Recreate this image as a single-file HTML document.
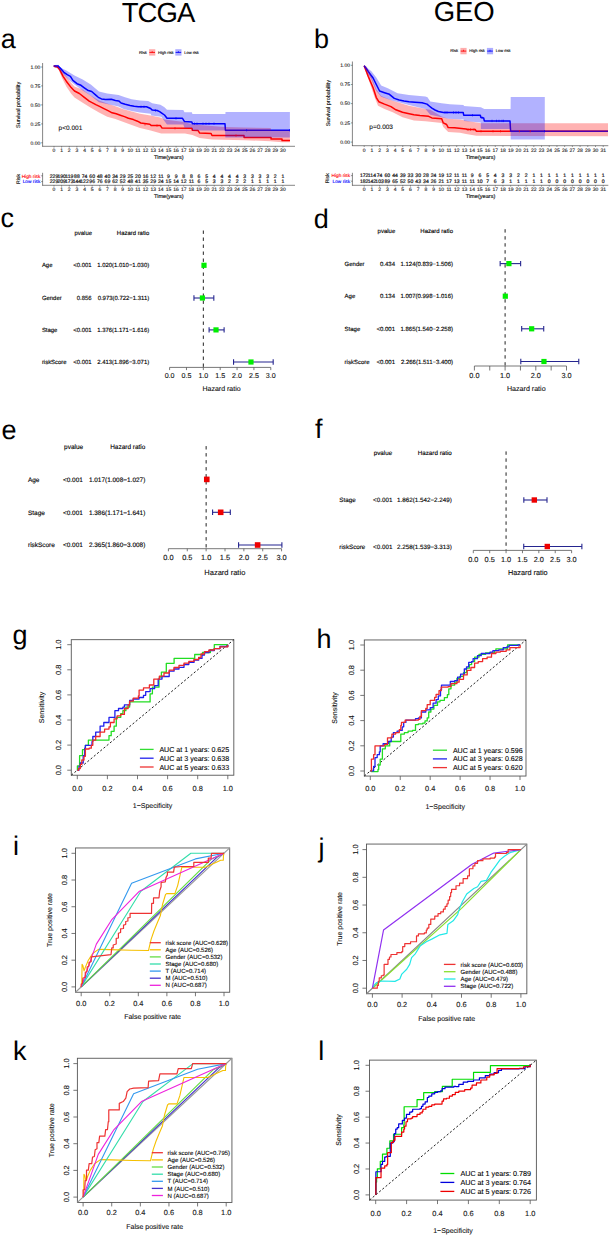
<!DOCTYPE html>
<html><head><meta charset="utf-8"><title>Figure</title>
<style>
html,body{margin:0;padding:0;background:#fff;}
body{width:612px;height:1240px;overflow:hidden;}
svg{display:block;font-family:"Liberation Sans",sans-serif;text-rendering:geometricPrecision;}
</style></head>
<body>
<svg width="612" height="1240" viewBox="0 0 612 1240">
<rect x="0" y="0" width="612" height="1240" fill="#fff"/>
<text x="158" y="21.8" font-size="27.5" text-anchor="middle" fill="#000" letter-spacing="-0.95">TCGA</text>
<text x="464.2" y="20.6" font-size="27.5" text-anchor="middle" fill="#000" >GEO</text>
<text x="0.8" y="47.5" font-size="27" text-anchor="start" fill="#000" >a</text>
<text x="314" y="47.5" font-size="27" text-anchor="start" fill="#000" >b</text>
<text x="0.5" y="226.5" font-size="27" text-anchor="start" fill="#000" >c</text>
<text x="313.7" y="227.6" font-size="27" text-anchor="start" fill="#000" >d</text>
<text x="1.6" y="438.7" font-size="27" text-anchor="start" fill="#000" >e</text>
<text x="315" y="438.3" font-size="27" text-anchor="start" fill="#000" >f</text>
<text x="12.4" y="643.6" font-size="27" text-anchor="start" fill="#000" >g</text>
<text x="316.4" y="647.8" font-size="27" text-anchor="start" fill="#000" >h</text>
<text x="12.9" y="854.5" font-size="27" text-anchor="start" fill="#000" >i</text>
<text x="318.5" y="856.8" font-size="27" text-anchor="start" fill="#000" >j</text>
<text x="12.9" y="1060.4" font-size="27" text-anchor="start" fill="#000" >k</text>
<text x="318.3" y="1060.4" font-size="27" text-anchor="start" fill="#000" >l</text>
<text transform="translate(138.9,53.5) scale(0.5)" font-size="8.2" text-anchor="start" fill="#000"  stroke="#000" stroke-width="0.2">Risk</text>
<rect x="149.1" y="49.2" width="6.2" height="6.4" fill="rgba(255,0,0,0.32)" stroke="none" stroke-width="1" />
<line x1="149.4" y1="52.4" x2="155" y2="52.4" stroke="#ff0000" stroke-width="0.9" />
<line x1="152.2" y1="51.1" x2="152.2" y2="52.6" stroke="#ff0000" stroke-width="0.7" />
<text transform="translate(158,53.5) scale(0.5)" font-size="8" text-anchor="start" fill="#000"  stroke="#000" stroke-width="0.2">High risk</text>
<rect x="175.3" y="49.2" width="6.2" height="6.4" fill="rgba(0,0,255,0.32)" stroke="none" stroke-width="1" />
<line x1="175.6" y1="52.4" x2="181.2" y2="52.4" stroke="#0000ff" stroke-width="0.9" />
<line x1="178.4" y1="51.1" x2="178.4" y2="52.6" stroke="#0000ff" stroke-width="0.7" />
<text transform="translate(184.2,53.5) scale(0.5)" font-size="8" text-anchor="start" fill="#000"  stroke="#000" stroke-width="0.2">Low risk</text>
<polyline points="53.7,66.1 57.4,66.9 59.8,69.8 63.1,76.3 66.3,81.2 71.2,87.6 74.5,91 79.4,93.5 84.3,97.3 89.2,101.2 95.8,104.6 100,106.6 103.9,108.6 108,110.6 112.1,112.8 116.2,113.8 120.3,115.2 124.5,116.6 128.4,118.3 133.4,119.6 137.5,121.2 140.8,123 149.8,124.2 151.4,125.6 160.4,125.6 162.1,128.1 191.9,128.2 192.4,130.2 198.1,130.6 199.7,133.1 211.1,133.5 212,135.5 244,135.5 244.1,137.4 271,137.4 271.1,139.1 282,139.1 282.1,140.6 290,140.6" fill="none" stroke="#ff0000" stroke-width="1.5" stroke-linejoin="round" />
<polyline points="53.7,66.1 58.2,66.1 60.6,68.6 63.9,72.3 67.2,74.7 70.4,76.3 72.9,80.4 77,83.7 81,85.3 84.3,87.8 87.6,90.2 91.7,91.5 95.8,95.1 98.3,97.3 101.5,98.9 105.6,99.5 111.3,99.3 115.4,100.5 118.7,100.9 121.1,103 125.2,104.2 130.1,105.4 134.2,106.2 138.3,106.7 146.5,106.8 150.6,108.5 152.3,110.1 157.2,110.5 159.6,111.7 162.1,113.4 164.5,115 167,118.3 182.5,118.3 184.5,121.6 191.9,122.1 192.4,123.7 225,123.7 225.4,130.2 290,130.2" fill="none" stroke="#0000ff" stroke-width="1.5" stroke-linejoin="round" />
<polygon points="53.7,65.5 58,66.2 62.3,71.5 66.3,76.3 71.2,83 74.5,86.5 82.7,89.8 90.8,95.5 99,100.5 107.2,103.6 115.4,106.2 123.5,109.2 131.7,111.6 140,113.8 150.6,115.5 160.4,117.4 164.5,119.5 184.5,122 192.4,124.5 225.4,127 244,127.6 270.7,128.1 271,130.5 289.9,130.5 289.9,142.2 282,142.2 270.2,141.2 244.7,140.2 212,139.6 199.7,138 192.4,135.1 185,133.5 161.2,133.4 150.6,130.5 140,128 131.7,125 123.5,122 115.4,119 107.2,116.8 99,112.6 90.8,107.8 82.7,102.8 74.5,97.6 71.2,93.8 66.3,86.5 62,78 58,68 53.7,66.5" fill="rgba(255,0,0,0.3)" stroke="none" />
<polygon points="53.7,65.3 58,65.6 62.3,68.5 66.3,70.6 70.4,73 74.5,75.5 82.7,79.6 90.8,84.5 99,91.5 107.2,93.4 118.6,95.1 125,97.2 131.7,99.2 140,100.5 148.2,100.9 152.3,103.2 160.4,104.8 164.5,107.3 167,109.7 183.3,110.1 184.5,112.2 191.9,112.3 192.4,113.9 225.4,113.9 225.5,111.9 289.9,111.9 289.9,137.6 225.4,137.6 225,130.6 192.4,130.6 191.9,127.8 184.5,127.7 183.3,124.4 167,124.4 161.2,116.7 151.4,115.4 150.6,113.8 140,112.4 131.7,111 123.6,109 118.6,106.5 107.2,104 99,102.2 90.8,95.8 82.7,90.5 74.5,84.5 70.4,81.3 66.3,77.2 62,73 58,67.8 53.7,67" fill="rgba(0,0,255,0.3)" stroke="none" />
<line x1="55" y1="65.3" x2="55" y2="67.7" stroke="#ff0000" stroke-width="0.6" />
<line x1="57.5" y1="65.7" x2="57.5" y2="68.1" stroke="#ff0000" stroke-width="0.6" />
<line x1="145" y1="123.2" x2="145" y2="125.6" stroke="#ff0000" stroke-width="0.6" />
<line x1="157" y1="124.4" x2="157" y2="126.8" stroke="#ff0000" stroke-width="0.6" />
<line x1="175" y1="127" x2="175" y2="129.4" stroke="#ff0000" stroke-width="0.6" />
<line x1="236" y1="134.3" x2="236" y2="136.7" stroke="#ff0000" stroke-width="0.6" />
<line x1="56" y1="64.9" x2="56" y2="67.3" stroke="#0000ff" stroke-width="0.6" />
<line x1="58" y1="64.9" x2="58" y2="67.3" stroke="#0000ff" stroke-width="0.6" />
<line x1="141" y1="105.6" x2="141" y2="108" stroke="#0000ff" stroke-width="0.6" />
<line x1="144" y1="105.6" x2="144" y2="108" stroke="#0000ff" stroke-width="0.6" />
<line x1="155.5" y1="109.3" x2="155.5" y2="111.7" stroke="#0000ff" stroke-width="0.6" />
<line x1="176" y1="117.1" x2="176" y2="119.5" stroke="#0000ff" stroke-width="0.6" />
<line x1="194.5" y1="122.5" x2="194.5" y2="124.9" stroke="#0000ff" stroke-width="0.6" />
<line x1="197" y1="122.5" x2="197" y2="124.9" stroke="#0000ff" stroke-width="0.6" />
<line x1="203" y1="122.5" x2="203" y2="124.9" stroke="#0000ff" stroke-width="0.6" />
<line x1="206" y1="122.5" x2="206" y2="124.9" stroke="#0000ff" stroke-width="0.6" />
<line x1="209" y1="122.5" x2="209" y2="124.9" stroke="#0000ff" stroke-width="0.6" />
<line x1="214" y1="122.5" x2="214" y2="124.9" stroke="#0000ff" stroke-width="0.6" />
<line x1="246.6" y1="129" x2="246.6" y2="131.4" stroke="#0000ff" stroke-width="0.6" />
<line x1="289.5" y1="129" x2="289.5" y2="131.4" stroke="#0000ff" stroke-width="0.6" />
<line x1="42.6" y1="63" x2="42.6" y2="146.6" stroke="#333" stroke-width="0.6" />
<line x1="42.3" y1="146.3" x2="295" y2="146.3" stroke="#333" stroke-width="0.6" />
<line x1="41.1" y1="67" x2="42.6" y2="67" stroke="#333" stroke-width="0.5" />
<text transform="translate(40.4,68.75) scale(0.5)" font-size="10.2" text-anchor="end" fill="#111"  stroke="#111" stroke-width="0.16">1.00</text>
<line x1="41.1" y1="85.9" x2="42.6" y2="85.9" stroke="#333" stroke-width="0.5" />
<text transform="translate(40.4,87.65) scale(0.5)" font-size="10.2" text-anchor="end" fill="#111"  stroke="#111" stroke-width="0.16">0.75</text>
<line x1="41.1" y1="104.9" x2="42.6" y2="104.9" stroke="#333" stroke-width="0.5" />
<text transform="translate(40.4,106.65) scale(0.5)" font-size="10.2" text-anchor="end" fill="#111"  stroke="#111" stroke-width="0.16">0.50</text>
<line x1="41.1" y1="123.9" x2="42.6" y2="123.9" stroke="#333" stroke-width="0.5" />
<text transform="translate(40.4,125.65) scale(0.5)" font-size="10.2" text-anchor="end" fill="#111"  stroke="#111" stroke-width="0.16">0.25</text>
<line x1="41.1" y1="142.8" x2="42.6" y2="142.8" stroke="#333" stroke-width="0.5" />
<text transform="translate(40.4,144.55) scale(0.5)" font-size="10.2" text-anchor="end" fill="#111"  stroke="#111" stroke-width="0.16">0.00</text>
<line x1="54" y1="146.3" x2="54" y2="147.6" stroke="#333" stroke-width="0.5" />
<text transform="translate(54,152.3) scale(0.5)" font-size="10" text-anchor="middle" fill="#111"  stroke="#111" stroke-width="0.2">0</text>
<line x1="61.63" y1="146.3" x2="61.63" y2="147.6" stroke="#333" stroke-width="0.5" />
<text transform="translate(61.63,152.3) scale(0.5)" font-size="10" text-anchor="middle" fill="#111"  stroke="#111" stroke-width="0.2">1</text>
<line x1="69.26" y1="146.3" x2="69.26" y2="147.6" stroke="#333" stroke-width="0.5" />
<text transform="translate(69.26,152.3) scale(0.5)" font-size="10" text-anchor="middle" fill="#111"  stroke="#111" stroke-width="0.2">2</text>
<line x1="76.89" y1="146.3" x2="76.89" y2="147.6" stroke="#333" stroke-width="0.5" />
<text transform="translate(76.89,152.3) scale(0.5)" font-size="10" text-anchor="middle" fill="#111"  stroke="#111" stroke-width="0.2">3</text>
<line x1="84.52" y1="146.3" x2="84.52" y2="147.6" stroke="#333" stroke-width="0.5" />
<text transform="translate(84.52,152.3) scale(0.5)" font-size="10" text-anchor="middle" fill="#111"  stroke="#111" stroke-width="0.2">4</text>
<line x1="92.15" y1="146.3" x2="92.15" y2="147.6" stroke="#333" stroke-width="0.5" />
<text transform="translate(92.15,152.3) scale(0.5)" font-size="10" text-anchor="middle" fill="#111"  stroke="#111" stroke-width="0.2">5</text>
<line x1="99.78" y1="146.3" x2="99.78" y2="147.6" stroke="#333" stroke-width="0.5" />
<text transform="translate(99.78,152.3) scale(0.5)" font-size="10" text-anchor="middle" fill="#111"  stroke="#111" stroke-width="0.2">6</text>
<line x1="107.41" y1="146.3" x2="107.41" y2="147.6" stroke="#333" stroke-width="0.5" />
<text transform="translate(107.41,152.3) scale(0.5)" font-size="10" text-anchor="middle" fill="#111"  stroke="#111" stroke-width="0.2">7</text>
<line x1="115.04" y1="146.3" x2="115.04" y2="147.6" stroke="#333" stroke-width="0.5" />
<text transform="translate(115.04,152.3) scale(0.5)" font-size="10" text-anchor="middle" fill="#111"  stroke="#111" stroke-width="0.2">8</text>
<line x1="122.67" y1="146.3" x2="122.67" y2="147.6" stroke="#333" stroke-width="0.5" />
<text transform="translate(122.67,152.3) scale(0.5)" font-size="10" text-anchor="middle" fill="#111"  stroke="#111" stroke-width="0.2">9</text>
<line x1="130.3" y1="146.3" x2="130.3" y2="147.6" stroke="#333" stroke-width="0.5" />
<text transform="translate(130.3,152.3) scale(0.5)" font-size="10" text-anchor="middle" fill="#111"  stroke="#111" stroke-width="0.2">10</text>
<line x1="137.93" y1="146.3" x2="137.93" y2="147.6" stroke="#333" stroke-width="0.5" />
<text transform="translate(137.93,152.3) scale(0.5)" font-size="10" text-anchor="middle" fill="#111"  stroke="#111" stroke-width="0.2">11</text>
<line x1="145.56" y1="146.3" x2="145.56" y2="147.6" stroke="#333" stroke-width="0.5" />
<text transform="translate(145.56,152.3) scale(0.5)" font-size="10" text-anchor="middle" fill="#111"  stroke="#111" stroke-width="0.2">12</text>
<line x1="153.19" y1="146.3" x2="153.19" y2="147.6" stroke="#333" stroke-width="0.5" />
<text transform="translate(153.19,152.3) scale(0.5)" font-size="10" text-anchor="middle" fill="#111"  stroke="#111" stroke-width="0.2">13</text>
<line x1="160.82" y1="146.3" x2="160.82" y2="147.6" stroke="#333" stroke-width="0.5" />
<text transform="translate(160.82,152.3) scale(0.5)" font-size="10" text-anchor="middle" fill="#111"  stroke="#111" stroke-width="0.2">14</text>
<line x1="168.45" y1="146.3" x2="168.45" y2="147.6" stroke="#333" stroke-width="0.5" />
<text transform="translate(168.45,152.3) scale(0.5)" font-size="10" text-anchor="middle" fill="#111"  stroke="#111" stroke-width="0.2">15</text>
<line x1="176.08" y1="146.3" x2="176.08" y2="147.6" stroke="#333" stroke-width="0.5" />
<text transform="translate(176.08,152.3) scale(0.5)" font-size="10" text-anchor="middle" fill="#111"  stroke="#111" stroke-width="0.2">16</text>
<line x1="183.71" y1="146.3" x2="183.71" y2="147.6" stroke="#333" stroke-width="0.5" />
<text transform="translate(183.71,152.3) scale(0.5)" font-size="10" text-anchor="middle" fill="#111"  stroke="#111" stroke-width="0.2">17</text>
<line x1="191.34" y1="146.3" x2="191.34" y2="147.6" stroke="#333" stroke-width="0.5" />
<text transform="translate(191.34,152.3) scale(0.5)" font-size="10" text-anchor="middle" fill="#111"  stroke="#111" stroke-width="0.2">18</text>
<line x1="198.97" y1="146.3" x2="198.97" y2="147.6" stroke="#333" stroke-width="0.5" />
<text transform="translate(198.97,152.3) scale(0.5)" font-size="10" text-anchor="middle" fill="#111"  stroke="#111" stroke-width="0.2">19</text>
<line x1="206.6" y1="146.3" x2="206.6" y2="147.6" stroke="#333" stroke-width="0.5" />
<text transform="translate(206.6,152.3) scale(0.5)" font-size="10" text-anchor="middle" fill="#111"  stroke="#111" stroke-width="0.2">20</text>
<line x1="214.23" y1="146.3" x2="214.23" y2="147.6" stroke="#333" stroke-width="0.5" />
<text transform="translate(214.23,152.3) scale(0.5)" font-size="10" text-anchor="middle" fill="#111"  stroke="#111" stroke-width="0.2">21</text>
<line x1="221.86" y1="146.3" x2="221.86" y2="147.6" stroke="#333" stroke-width="0.5" />
<text transform="translate(221.86,152.3) scale(0.5)" font-size="10" text-anchor="middle" fill="#111"  stroke="#111" stroke-width="0.2">22</text>
<line x1="229.49" y1="146.3" x2="229.49" y2="147.6" stroke="#333" stroke-width="0.5" />
<text transform="translate(229.49,152.3) scale(0.5)" font-size="10" text-anchor="middle" fill="#111"  stroke="#111" stroke-width="0.2">23</text>
<line x1="237.12" y1="146.3" x2="237.12" y2="147.6" stroke="#333" stroke-width="0.5" />
<text transform="translate(237.12,152.3) scale(0.5)" font-size="10" text-anchor="middle" fill="#111"  stroke="#111" stroke-width="0.2">24</text>
<line x1="244.75" y1="146.3" x2="244.75" y2="147.6" stroke="#333" stroke-width="0.5" />
<text transform="translate(244.75,152.3) scale(0.5)" font-size="10" text-anchor="middle" fill="#111"  stroke="#111" stroke-width="0.2">25</text>
<line x1="252.38" y1="146.3" x2="252.38" y2="147.6" stroke="#333" stroke-width="0.5" />
<text transform="translate(252.38,152.3) scale(0.5)" font-size="10" text-anchor="middle" fill="#111"  stroke="#111" stroke-width="0.2">26</text>
<line x1="260.01" y1="146.3" x2="260.01" y2="147.6" stroke="#333" stroke-width="0.5" />
<text transform="translate(260.01,152.3) scale(0.5)" font-size="10" text-anchor="middle" fill="#111"  stroke="#111" stroke-width="0.2">27</text>
<line x1="267.64" y1="146.3" x2="267.64" y2="147.6" stroke="#333" stroke-width="0.5" />
<text transform="translate(267.64,152.3) scale(0.5)" font-size="10" text-anchor="middle" fill="#111"  stroke="#111" stroke-width="0.2">28</text>
<line x1="275.27" y1="146.3" x2="275.27" y2="147.6" stroke="#333" stroke-width="0.5" />
<text transform="translate(275.27,152.3) scale(0.5)" font-size="10" text-anchor="middle" fill="#111"  stroke="#111" stroke-width="0.2">29</text>
<line x1="282.9" y1="146.3" x2="282.9" y2="147.6" stroke="#333" stroke-width="0.5" />
<text transform="translate(282.9,152.3) scale(0.5)" font-size="10" text-anchor="middle" fill="#111"  stroke="#111" stroke-width="0.2">30</text>
<text x="168.8" y="159.1" font-size="5.6" text-anchor="middle" fill="#111"  stroke="#111" stroke-width="0.15">Time(years)</text>
<text transform="translate(20.1,104.9) rotate(-90) scale(1)" font-size="5.5" text-anchor="middle" fill="#111" stroke="#111" stroke-width="0.1">Survival probability</text>
<text x="58.6" y="129.8" font-size="6.5" text-anchor="start" fill="#111"  stroke="#111" stroke-width="0.1">p&lt;0.001</text>
<text transform="translate(20,179) rotate(-90) scale(1)" font-size="5.2" text-anchor="middle" fill="#111" stroke="#111" stroke-width="0.12">Risk</text>
<text transform="translate(40.3,177.5) scale(0.5)" font-size="9.6" text-anchor="end" fill="#ff0000"  stroke="#ff0000" stroke-width="0.24">High risk</text>
<text transform="translate(40.3,183.3) scale(0.5)" font-size="9.6" text-anchor="end" fill="#0000ff"  stroke="#0000ff" stroke-width="0.24">Low risk</text>
<line x1="42.6" y1="172.8" x2="42.6" y2="185.6" stroke="#333" stroke-width="0.6" />
<line x1="41.1" y1="175.8" x2="42.6" y2="175.8" stroke="#333" stroke-width="0.5" />
<line x1="41.1" y1="181.6" x2="42.6" y2="181.6" stroke="#333" stroke-width="0.5" />
<line x1="42.3" y1="185.3" x2="295" y2="185.3" stroke="#333" stroke-width="0.6" />
<text transform="translate(54,177.6) scale(0.5)" font-size="10.2" text-anchor="middle" fill="#111"  stroke="#111" stroke-width="0.36">229</text>
<text transform="translate(54,183.4) scale(0.5)" font-size="10.2" text-anchor="middle" fill="#111"  stroke="#111" stroke-width="0.36">229</text>
<line x1="54" y1="185.3" x2="54" y2="186.6" stroke="#333" stroke-width="0.5" />
<text transform="translate(54,191.3) scale(0.5)" font-size="10" text-anchor="middle" fill="#111"  stroke="#111" stroke-width="0.2">0</text>
<text transform="translate(61.63,177.6) scale(0.5)" font-size="10.2" text-anchor="middle" fill="#111"  stroke="#111" stroke-width="0.36">190</text>
<text transform="translate(61.63,183.4) scale(0.5)" font-size="10.2" text-anchor="middle" fill="#111"  stroke="#111" stroke-width="0.36">209</text>
<line x1="61.63" y1="185.3" x2="61.63" y2="186.6" stroke="#333" stroke-width="0.5" />
<text transform="translate(61.63,191.3) scale(0.5)" font-size="10" text-anchor="middle" fill="#111"  stroke="#111" stroke-width="0.2">1</text>
<text transform="translate(69.26,177.6) scale(0.5)" font-size="10.2" text-anchor="middle" fill="#111"  stroke="#111" stroke-width="0.36">119</text>
<text transform="translate(69.26,183.4) scale(0.5)" font-size="10.2" text-anchor="middle" fill="#111"  stroke="#111" stroke-width="0.36">173</text>
<line x1="69.26" y1="185.3" x2="69.26" y2="186.6" stroke="#333" stroke-width="0.5" />
<text transform="translate(69.26,191.3) scale(0.5)" font-size="10" text-anchor="middle" fill="#111"  stroke="#111" stroke-width="0.2">2</text>
<text transform="translate(76.89,177.6) scale(0.5)" font-size="10.2" text-anchor="middle" fill="#111"  stroke="#111" stroke-width="0.36">88</text>
<text transform="translate(76.89,183.4) scale(0.5)" font-size="10.2" text-anchor="middle" fill="#111"  stroke="#111" stroke-width="0.36">144</text>
<line x1="76.89" y1="185.3" x2="76.89" y2="186.6" stroke="#333" stroke-width="0.5" />
<text transform="translate(76.89,191.3) scale(0.5)" font-size="10" text-anchor="middle" fill="#111"  stroke="#111" stroke-width="0.2">3</text>
<text transform="translate(84.52,177.6) scale(0.5)" font-size="10.2" text-anchor="middle" fill="#111"  stroke="#111" stroke-width="0.36">74</text>
<text transform="translate(84.52,183.4) scale(0.5)" font-size="10.2" text-anchor="middle" fill="#111"  stroke="#111" stroke-width="0.36">122</text>
<line x1="84.52" y1="185.3" x2="84.52" y2="186.6" stroke="#333" stroke-width="0.5" />
<text transform="translate(84.52,191.3) scale(0.5)" font-size="10" text-anchor="middle" fill="#111"  stroke="#111" stroke-width="0.2">4</text>
<text transform="translate(92.15,177.6) scale(0.5)" font-size="10.2" text-anchor="middle" fill="#111"  stroke="#111" stroke-width="0.36">60</text>
<text transform="translate(92.15,183.4) scale(0.5)" font-size="10.2" text-anchor="middle" fill="#111"  stroke="#111" stroke-width="0.36">96</text>
<line x1="92.15" y1="185.3" x2="92.15" y2="186.6" stroke="#333" stroke-width="0.5" />
<text transform="translate(92.15,191.3) scale(0.5)" font-size="10" text-anchor="middle" fill="#111"  stroke="#111" stroke-width="0.2">5</text>
<text transform="translate(99.78,177.6) scale(0.5)" font-size="10.2" text-anchor="middle" fill="#111"  stroke="#111" stroke-width="0.36">48</text>
<text transform="translate(99.78,183.4) scale(0.5)" font-size="10.2" text-anchor="middle" fill="#111"  stroke="#111" stroke-width="0.36">76</text>
<line x1="99.78" y1="185.3" x2="99.78" y2="186.6" stroke="#333" stroke-width="0.5" />
<text transform="translate(99.78,191.3) scale(0.5)" font-size="10" text-anchor="middle" fill="#111"  stroke="#111" stroke-width="0.2">6</text>
<text transform="translate(107.41,177.6) scale(0.5)" font-size="10.2" text-anchor="middle" fill="#111"  stroke="#111" stroke-width="0.36">40</text>
<text transform="translate(107.41,183.4) scale(0.5)" font-size="10.2" text-anchor="middle" fill="#111"  stroke="#111" stroke-width="0.36">69</text>
<line x1="107.41" y1="185.3" x2="107.41" y2="186.6" stroke="#333" stroke-width="0.5" />
<text transform="translate(107.41,191.3) scale(0.5)" font-size="10" text-anchor="middle" fill="#111"  stroke="#111" stroke-width="0.2">7</text>
<text transform="translate(115.04,177.6) scale(0.5)" font-size="10.2" text-anchor="middle" fill="#111"  stroke="#111" stroke-width="0.36">34</text>
<text transform="translate(115.04,183.4) scale(0.5)" font-size="10.2" text-anchor="middle" fill="#111"  stroke="#111" stroke-width="0.36">62</text>
<line x1="115.04" y1="185.3" x2="115.04" y2="186.6" stroke="#333" stroke-width="0.5" />
<text transform="translate(115.04,191.3) scale(0.5)" font-size="10" text-anchor="middle" fill="#111"  stroke="#111" stroke-width="0.2">8</text>
<text transform="translate(122.67,177.6) scale(0.5)" font-size="10.2" text-anchor="middle" fill="#111"  stroke="#111" stroke-width="0.36">29</text>
<text transform="translate(122.67,183.4) scale(0.5)" font-size="10.2" text-anchor="middle" fill="#111"  stroke="#111" stroke-width="0.36">52</text>
<line x1="122.67" y1="185.3" x2="122.67" y2="186.6" stroke="#333" stroke-width="0.5" />
<text transform="translate(122.67,191.3) scale(0.5)" font-size="10" text-anchor="middle" fill="#111"  stroke="#111" stroke-width="0.2">9</text>
<text transform="translate(130.3,177.6) scale(0.5)" font-size="10.2" text-anchor="middle" fill="#111"  stroke="#111" stroke-width="0.36">25</text>
<text transform="translate(130.3,183.4) scale(0.5)" font-size="10.2" text-anchor="middle" fill="#111"  stroke="#111" stroke-width="0.36">48</text>
<line x1="130.3" y1="185.3" x2="130.3" y2="186.6" stroke="#333" stroke-width="0.5" />
<text transform="translate(130.3,191.3) scale(0.5)" font-size="10" text-anchor="middle" fill="#111"  stroke="#111" stroke-width="0.2">10</text>
<text transform="translate(137.93,177.6) scale(0.5)" font-size="10.2" text-anchor="middle" fill="#111"  stroke="#111" stroke-width="0.36">20</text>
<text transform="translate(137.93,183.4) scale(0.5)" font-size="10.2" text-anchor="middle" fill="#111"  stroke="#111" stroke-width="0.36">41</text>
<line x1="137.93" y1="185.3" x2="137.93" y2="186.6" stroke="#333" stroke-width="0.5" />
<text transform="translate(137.93,191.3) scale(0.5)" font-size="10" text-anchor="middle" fill="#111"  stroke="#111" stroke-width="0.2">11</text>
<text transform="translate(145.56,177.6) scale(0.5)" font-size="10.2" text-anchor="middle" fill="#111"  stroke="#111" stroke-width="0.36">16</text>
<text transform="translate(145.56,183.4) scale(0.5)" font-size="10.2" text-anchor="middle" fill="#111"  stroke="#111" stroke-width="0.36">35</text>
<line x1="145.56" y1="185.3" x2="145.56" y2="186.6" stroke="#333" stroke-width="0.5" />
<text transform="translate(145.56,191.3) scale(0.5)" font-size="10" text-anchor="middle" fill="#111"  stroke="#111" stroke-width="0.2">12</text>
<text transform="translate(153.19,177.6) scale(0.5)" font-size="10.2" text-anchor="middle" fill="#111"  stroke="#111" stroke-width="0.36">12</text>
<text transform="translate(153.19,183.4) scale(0.5)" font-size="10.2" text-anchor="middle" fill="#111"  stroke="#111" stroke-width="0.36">29</text>
<line x1="153.19" y1="185.3" x2="153.19" y2="186.6" stroke="#333" stroke-width="0.5" />
<text transform="translate(153.19,191.3) scale(0.5)" font-size="10" text-anchor="middle" fill="#111"  stroke="#111" stroke-width="0.2">13</text>
<text transform="translate(160.82,177.6) scale(0.5)" font-size="10.2" text-anchor="middle" fill="#111"  stroke="#111" stroke-width="0.36">11</text>
<text transform="translate(160.82,183.4) scale(0.5)" font-size="10.2" text-anchor="middle" fill="#111"  stroke="#111" stroke-width="0.36">24</text>
<line x1="160.82" y1="185.3" x2="160.82" y2="186.6" stroke="#333" stroke-width="0.5" />
<text transform="translate(160.82,191.3) scale(0.5)" font-size="10" text-anchor="middle" fill="#111"  stroke="#111" stroke-width="0.2">14</text>
<text transform="translate(168.45,177.6) scale(0.5)" font-size="10.2" text-anchor="middle" fill="#111"  stroke="#111" stroke-width="0.36">9</text>
<text transform="translate(168.45,183.4) scale(0.5)" font-size="10.2" text-anchor="middle" fill="#111"  stroke="#111" stroke-width="0.36">15</text>
<line x1="168.45" y1="185.3" x2="168.45" y2="186.6" stroke="#333" stroke-width="0.5" />
<text transform="translate(168.45,191.3) scale(0.5)" font-size="10" text-anchor="middle" fill="#111"  stroke="#111" stroke-width="0.2">15</text>
<text transform="translate(176.08,177.6) scale(0.5)" font-size="10.2" text-anchor="middle" fill="#111"  stroke="#111" stroke-width="0.36">9</text>
<text transform="translate(176.08,183.4) scale(0.5)" font-size="10.2" text-anchor="middle" fill="#111"  stroke="#111" stroke-width="0.36">14</text>
<line x1="176.08" y1="185.3" x2="176.08" y2="186.6" stroke="#333" stroke-width="0.5" />
<text transform="translate(176.08,191.3) scale(0.5)" font-size="10" text-anchor="middle" fill="#111"  stroke="#111" stroke-width="0.2">16</text>
<text transform="translate(183.71,177.6) scale(0.5)" font-size="10.2" text-anchor="middle" fill="#111"  stroke="#111" stroke-width="0.36">8</text>
<text transform="translate(183.71,183.4) scale(0.5)" font-size="10.2" text-anchor="middle" fill="#111"  stroke="#111" stroke-width="0.36">12</text>
<line x1="183.71" y1="185.3" x2="183.71" y2="186.6" stroke="#333" stroke-width="0.5" />
<text transform="translate(183.71,191.3) scale(0.5)" font-size="10" text-anchor="middle" fill="#111"  stroke="#111" stroke-width="0.2">17</text>
<text transform="translate(191.34,177.6) scale(0.5)" font-size="10.2" text-anchor="middle" fill="#111"  stroke="#111" stroke-width="0.36">8</text>
<text transform="translate(191.34,183.4) scale(0.5)" font-size="10.2" text-anchor="middle" fill="#111"  stroke="#111" stroke-width="0.36">11</text>
<line x1="191.34" y1="185.3" x2="191.34" y2="186.6" stroke="#333" stroke-width="0.5" />
<text transform="translate(191.34,191.3) scale(0.5)" font-size="10" text-anchor="middle" fill="#111"  stroke="#111" stroke-width="0.2">18</text>
<text transform="translate(198.97,177.6) scale(0.5)" font-size="10.2" text-anchor="middle" fill="#111"  stroke="#111" stroke-width="0.36">6</text>
<text transform="translate(198.97,183.4) scale(0.5)" font-size="10.2" text-anchor="middle" fill="#111"  stroke="#111" stroke-width="0.36">6</text>
<line x1="198.97" y1="185.3" x2="198.97" y2="186.6" stroke="#333" stroke-width="0.5" />
<text transform="translate(198.97,191.3) scale(0.5)" font-size="10" text-anchor="middle" fill="#111"  stroke="#111" stroke-width="0.2">19</text>
<text transform="translate(206.6,177.6) scale(0.5)" font-size="10.2" text-anchor="middle" fill="#111"  stroke="#111" stroke-width="0.36">5</text>
<text transform="translate(206.6,183.4) scale(0.5)" font-size="10.2" text-anchor="middle" fill="#111"  stroke="#111" stroke-width="0.36">5</text>
<line x1="206.6" y1="185.3" x2="206.6" y2="186.6" stroke="#333" stroke-width="0.5" />
<text transform="translate(206.6,191.3) scale(0.5)" font-size="10" text-anchor="middle" fill="#111"  stroke="#111" stroke-width="0.2">20</text>
<text transform="translate(214.23,177.6) scale(0.5)" font-size="10.2" text-anchor="middle" fill="#111"  stroke="#111" stroke-width="0.36">4</text>
<text transform="translate(214.23,183.4) scale(0.5)" font-size="10.2" text-anchor="middle" fill="#111"  stroke="#111" stroke-width="0.36">3</text>
<line x1="214.23" y1="185.3" x2="214.23" y2="186.6" stroke="#333" stroke-width="0.5" />
<text transform="translate(214.23,191.3) scale(0.5)" font-size="10" text-anchor="middle" fill="#111"  stroke="#111" stroke-width="0.2">21</text>
<text transform="translate(221.86,177.6) scale(0.5)" font-size="10.2" text-anchor="middle" fill="#111"  stroke="#111" stroke-width="0.36">4</text>
<text transform="translate(221.86,183.4) scale(0.5)" font-size="10.2" text-anchor="middle" fill="#111"  stroke="#111" stroke-width="0.36">3</text>
<line x1="221.86" y1="185.3" x2="221.86" y2="186.6" stroke="#333" stroke-width="0.5" />
<text transform="translate(221.86,191.3) scale(0.5)" font-size="10" text-anchor="middle" fill="#111"  stroke="#111" stroke-width="0.2">22</text>
<text transform="translate(229.49,177.6) scale(0.5)" font-size="10.2" text-anchor="middle" fill="#111"  stroke="#111" stroke-width="0.36">4</text>
<text transform="translate(229.49,183.4) scale(0.5)" font-size="10.2" text-anchor="middle" fill="#111"  stroke="#111" stroke-width="0.36">2</text>
<line x1="229.49" y1="185.3" x2="229.49" y2="186.6" stroke="#333" stroke-width="0.5" />
<text transform="translate(229.49,191.3) scale(0.5)" font-size="10" text-anchor="middle" fill="#111"  stroke="#111" stroke-width="0.2">23</text>
<text transform="translate(237.12,177.6) scale(0.5)" font-size="10.2" text-anchor="middle" fill="#111"  stroke="#111" stroke-width="0.36">4</text>
<text transform="translate(237.12,183.4) scale(0.5)" font-size="10.2" text-anchor="middle" fill="#111"  stroke="#111" stroke-width="0.36">2</text>
<line x1="237.12" y1="185.3" x2="237.12" y2="186.6" stroke="#333" stroke-width="0.5" />
<text transform="translate(237.12,191.3) scale(0.5)" font-size="10" text-anchor="middle" fill="#111"  stroke="#111" stroke-width="0.2">24</text>
<text transform="translate(244.75,177.6) scale(0.5)" font-size="10.2" text-anchor="middle" fill="#111"  stroke="#111" stroke-width="0.36">3</text>
<text transform="translate(244.75,183.4) scale(0.5)" font-size="10.2" text-anchor="middle" fill="#111"  stroke="#111" stroke-width="0.36">2</text>
<line x1="244.75" y1="185.3" x2="244.75" y2="186.6" stroke="#333" stroke-width="0.5" />
<text transform="translate(244.75,191.3) scale(0.5)" font-size="10" text-anchor="middle" fill="#111"  stroke="#111" stroke-width="0.2">25</text>
<text transform="translate(252.38,177.6) scale(0.5)" font-size="10.2" text-anchor="middle" fill="#111"  stroke="#111" stroke-width="0.36">3</text>
<text transform="translate(252.38,183.4) scale(0.5)" font-size="10.2" text-anchor="middle" fill="#111"  stroke="#111" stroke-width="0.36">1</text>
<line x1="252.38" y1="185.3" x2="252.38" y2="186.6" stroke="#333" stroke-width="0.5" />
<text transform="translate(252.38,191.3) scale(0.5)" font-size="10" text-anchor="middle" fill="#111"  stroke="#111" stroke-width="0.2">26</text>
<text transform="translate(260.01,177.6) scale(0.5)" font-size="10.2" text-anchor="middle" fill="#111"  stroke="#111" stroke-width="0.36">3</text>
<text transform="translate(260.01,183.4) scale(0.5)" font-size="10.2" text-anchor="middle" fill="#111"  stroke="#111" stroke-width="0.36">1</text>
<line x1="260.01" y1="185.3" x2="260.01" y2="186.6" stroke="#333" stroke-width="0.5" />
<text transform="translate(260.01,191.3) scale(0.5)" font-size="10" text-anchor="middle" fill="#111"  stroke="#111" stroke-width="0.2">27</text>
<text transform="translate(267.64,177.6) scale(0.5)" font-size="10.2" text-anchor="middle" fill="#111"  stroke="#111" stroke-width="0.36">3</text>
<text transform="translate(267.64,183.4) scale(0.5)" font-size="10.2" text-anchor="middle" fill="#111"  stroke="#111" stroke-width="0.36">1</text>
<line x1="267.64" y1="185.3" x2="267.64" y2="186.6" stroke="#333" stroke-width="0.5" />
<text transform="translate(267.64,191.3) scale(0.5)" font-size="10" text-anchor="middle" fill="#111"  stroke="#111" stroke-width="0.2">28</text>
<text transform="translate(275.27,177.6) scale(0.5)" font-size="10.2" text-anchor="middle" fill="#111"  stroke="#111" stroke-width="0.36">2</text>
<text transform="translate(275.27,183.4) scale(0.5)" font-size="10.2" text-anchor="middle" fill="#111"  stroke="#111" stroke-width="0.36">1</text>
<line x1="275.27" y1="185.3" x2="275.27" y2="186.6" stroke="#333" stroke-width="0.5" />
<text transform="translate(275.27,191.3) scale(0.5)" font-size="10" text-anchor="middle" fill="#111"  stroke="#111" stroke-width="0.2">29</text>
<text transform="translate(282.9,177.6) scale(0.5)" font-size="10.2" text-anchor="middle" fill="#111"  stroke="#111" stroke-width="0.36">1</text>
<text transform="translate(282.9,183.4) scale(0.5)" font-size="10.2" text-anchor="middle" fill="#111"  stroke="#111" stroke-width="0.36">1</text>
<line x1="282.9" y1="185.3" x2="282.9" y2="186.6" stroke="#333" stroke-width="0.5" />
<text transform="translate(282.9,191.3) scale(0.5)" font-size="10" text-anchor="middle" fill="#111"  stroke="#111" stroke-width="0.2">30</text>
<text x="168.8" y="197.9" font-size="5.6" text-anchor="middle" fill="#111"  stroke="#111" stroke-width="0.15">Time(years)</text>
<text transform="translate(450.2,52.2) scale(0.5)" font-size="8.2" text-anchor="start" fill="#000"  stroke="#000" stroke-width="0.2">Risk</text>
<rect x="460.4" y="47.9" width="6.2" height="6.4" fill="rgba(255,0,0,0.32)" stroke="none" stroke-width="1" />
<line x1="460.7" y1="51.1" x2="466.3" y2="51.1" stroke="#ff0000" stroke-width="0.9" />
<line x1="463.5" y1="49.8" x2="463.5" y2="51.3" stroke="#ff0000" stroke-width="0.7" />
<text transform="translate(469.3,52.2) scale(0.5)" font-size="8" text-anchor="start" fill="#000"  stroke="#000" stroke-width="0.2">High risk</text>
<rect x="486.9" y="47.9" width="6.2" height="6.4" fill="rgba(0,0,255,0.32)" stroke="none" stroke-width="1" />
<line x1="487.2" y1="51.1" x2="492.8" y2="51.1" stroke="#0000ff" stroke-width="0.9" />
<line x1="490" y1="49.8" x2="490" y2="51.3" stroke="#0000ff" stroke-width="0.7" />
<text transform="translate(495.8,52.2) scale(0.5)" font-size="8" text-anchor="start" fill="#000"  stroke="#000" stroke-width="0.2">Low risk</text>
<polyline points="364.1,65.7 366.2,71 368.2,76.3 370.6,82 373.1,87.8 376.3,97.6 378.8,101.7 384.5,104.1 391,106.6 395.9,109.8 402.5,112.3 408,113.5 413.9,114.7 420,115.5 428.6,116.3 431.9,117.9 441.7,118.8 443.3,122.9 446.6,124.5 448.2,127.6 454.6,127.7 466,128.9 467.2,129.5 475.2,129.5 476.3,131.2 608,131.2" fill="none" stroke="#ff0000" stroke-width="1.5" stroke-linejoin="round" />
<polyline points="364.1,65.7 366.2,68.5 368.2,71.4 370.6,74.7 373.1,78 376.3,84.5 379.6,91 384.5,92.7 389.4,94.3 394.3,98.4 399.2,100 404,100.9 409,101.7 415,102.2 422.1,102.8 427,104.1 429.5,106.2 431.9,108.2 435,110 438.4,111.5 443.4,112.5 463.2,112.5 463.7,115.2 480.3,115.2 480.9,117.5 483.7,118 484.3,120.9 510,120.9 510.6,131.2 608,131.2" fill="none" stroke="#0000ff" stroke-width="1.5" stroke-linejoin="round" />
<polygon points="364.1,65.3 366.5,66.5 371.4,76.3 376.3,89.4 381.2,95.9 392.7,100.8 409,105.8 425.4,109 430.3,109.8 441.7,116.4 448.2,118.8 460,119.6 463.7,120.3 480.9,123.2 608,123.3 608,136.2 476.3,135.8 466,134 460,132.7 448.2,131.9 443.3,127 441.7,122.9 425.4,121.3 413.9,120.5 402.5,117.2 392.7,112.3 384.5,109 378,105.8 374.7,97.6 369.8,82.9 364.9,69.8 364.1,66.5" fill="rgba(255,0,0,0.3)" stroke="none" />
<polygon points="364.1,65.3 364.9,65.5 368,68.5 371.4,71.2 376.3,77.6 381.2,85.6 387.8,88.3 392.7,90.8 397.6,93.2 409,94.9 425.4,96.6 427.5,97.3 430.3,101.4 441.7,103.2 450,104.3 463.7,104.9 463.8,106 480.9,107.2 484.3,108.9 510.6,108.9 510.7,97.1 544.8,97.1 544.8,139.6 510.7,139.6 510.6,128.9 480.9,128.9 480.8,122.6 463.8,121 463.7,119.6 448.2,118.8 441.7,117.2 430.3,114.7 425.4,109 409,104.9 392.7,100.8 381.2,96.8 376.3,91 371.4,79.6 366.5,71.4 364.1,66.5" fill="rgba(0,0,255,0.3)" stroke="none" />
<line x1="468" y1="128.3" x2="468" y2="130.7" stroke="#ff0000" stroke-width="0.6" />
<line x1="470.5" y1="128.3" x2="470.5" y2="130.7" stroke="#ff0000" stroke-width="0.6" />
<line x1="474" y1="128.3" x2="474" y2="130.7" stroke="#ff0000" stroke-width="0.6" />
<line x1="481" y1="130" x2="481" y2="132.4" stroke="#ff0000" stroke-width="0.6" />
<line x1="493" y1="130" x2="493" y2="132.4" stroke="#ff0000" stroke-width="0.6" />
<line x1="500.5" y1="130" x2="500.5" y2="132.4" stroke="#ff0000" stroke-width="0.6" />
<line x1="519.4" y1="130" x2="519.4" y2="132.4" stroke="#ff0000" stroke-width="0.6" />
<line x1="530.2" y1="130" x2="530.2" y2="132.4" stroke="#ff0000" stroke-width="0.6" />
<line x1="445" y1="111.3" x2="445" y2="113.7" stroke="#0000ff" stroke-width="0.6" />
<line x1="447" y1="111.3" x2="447" y2="113.7" stroke="#0000ff" stroke-width="0.6" />
<line x1="453.5" y1="111.3" x2="453.5" y2="113.7" stroke="#0000ff" stroke-width="0.6" />
<line x1="456" y1="111.3" x2="456" y2="113.7" stroke="#0000ff" stroke-width="0.6" />
<line x1="458.5" y1="111.3" x2="458.5" y2="113.7" stroke="#0000ff" stroke-width="0.6" />
<line x1="472.5" y1="114" x2="472.5" y2="116.4" stroke="#0000ff" stroke-width="0.6" />
<line x1="482" y1="116.3" x2="482" y2="118.7" stroke="#0000ff" stroke-width="0.6" />
<line x1="492" y1="119.7" x2="492" y2="122.1" stroke="#0000ff" stroke-width="0.6" />
<line x1="496.5" y1="119.7" x2="496.5" y2="122.1" stroke="#0000ff" stroke-width="0.6" />
<line x1="499" y1="119.7" x2="499" y2="122.1" stroke="#0000ff" stroke-width="0.6" />
<line x1="502" y1="119.7" x2="502" y2="122.1" stroke="#0000ff" stroke-width="0.6" />
<line x1="503.5" y1="119.7" x2="503.5" y2="122.1" stroke="#0000ff" stroke-width="0.6" />
<line x1="544.5" y1="130" x2="544.5" y2="132.4" stroke="#0000ff" stroke-width="0.6" />
<line x1="352.4" y1="61.5" x2="352.4" y2="146" stroke="#333" stroke-width="0.6" />
<line x1="352.1" y1="145.7" x2="608.3" y2="145.7" stroke="#333" stroke-width="0.6" />
<line x1="350.9" y1="65.3" x2="352.4" y2="65.3" stroke="#333" stroke-width="0.5" />
<text transform="translate(350.2,67.05) scale(0.5)" font-size="10.2" text-anchor="end" fill="#111"  stroke="#111" stroke-width="0.16">1.00</text>
<line x1="350.9" y1="84.5" x2="352.4" y2="84.5" stroke="#333" stroke-width="0.5" />
<text transform="translate(350.2,86.25) scale(0.5)" font-size="10.2" text-anchor="end" fill="#111"  stroke="#111" stroke-width="0.16">0.75</text>
<line x1="350.9" y1="103.6" x2="352.4" y2="103.6" stroke="#333" stroke-width="0.5" />
<text transform="translate(350.2,105.35) scale(0.5)" font-size="10.2" text-anchor="end" fill="#111"  stroke="#111" stroke-width="0.16">0.50</text>
<line x1="350.9" y1="122.9" x2="352.4" y2="122.9" stroke="#333" stroke-width="0.5" />
<text transform="translate(350.2,124.65) scale(0.5)" font-size="10.2" text-anchor="end" fill="#111"  stroke="#111" stroke-width="0.16">0.25</text>
<line x1="350.9" y1="142.1" x2="352.4" y2="142.1" stroke="#333" stroke-width="0.5" />
<text transform="translate(350.2,143.85) scale(0.5)" font-size="10.2" text-anchor="end" fill="#111"  stroke="#111" stroke-width="0.16">0.00</text>
<line x1="364.2" y1="145.7" x2="364.2" y2="147" stroke="#333" stroke-width="0.5" />
<text transform="translate(364.2,151.7) scale(0.5)" font-size="10" text-anchor="middle" fill="#111"  stroke="#111" stroke-width="0.2">0</text>
<line x1="371.91" y1="145.7" x2="371.91" y2="147" stroke="#333" stroke-width="0.5" />
<text transform="translate(371.91,151.7) scale(0.5)" font-size="10" text-anchor="middle" fill="#111"  stroke="#111" stroke-width="0.2">1</text>
<line x1="379.62" y1="145.7" x2="379.62" y2="147" stroke="#333" stroke-width="0.5" />
<text transform="translate(379.62,151.7) scale(0.5)" font-size="10" text-anchor="middle" fill="#111"  stroke="#111" stroke-width="0.2">2</text>
<line x1="387.33" y1="145.7" x2="387.33" y2="147" stroke="#333" stroke-width="0.5" />
<text transform="translate(387.33,151.7) scale(0.5)" font-size="10" text-anchor="middle" fill="#111"  stroke="#111" stroke-width="0.2">3</text>
<line x1="395.04" y1="145.7" x2="395.04" y2="147" stroke="#333" stroke-width="0.5" />
<text transform="translate(395.04,151.7) scale(0.5)" font-size="10" text-anchor="middle" fill="#111"  stroke="#111" stroke-width="0.2">4</text>
<line x1="402.75" y1="145.7" x2="402.75" y2="147" stroke="#333" stroke-width="0.5" />
<text transform="translate(402.75,151.7) scale(0.5)" font-size="10" text-anchor="middle" fill="#111"  stroke="#111" stroke-width="0.2">5</text>
<line x1="410.46" y1="145.7" x2="410.46" y2="147" stroke="#333" stroke-width="0.5" />
<text transform="translate(410.46,151.7) scale(0.5)" font-size="10" text-anchor="middle" fill="#111"  stroke="#111" stroke-width="0.2">6</text>
<line x1="418.17" y1="145.7" x2="418.17" y2="147" stroke="#333" stroke-width="0.5" />
<text transform="translate(418.17,151.7) scale(0.5)" font-size="10" text-anchor="middle" fill="#111"  stroke="#111" stroke-width="0.2">7</text>
<line x1="425.88" y1="145.7" x2="425.88" y2="147" stroke="#333" stroke-width="0.5" />
<text transform="translate(425.88,151.7) scale(0.5)" font-size="10" text-anchor="middle" fill="#111"  stroke="#111" stroke-width="0.2">8</text>
<line x1="433.59" y1="145.7" x2="433.59" y2="147" stroke="#333" stroke-width="0.5" />
<text transform="translate(433.59,151.7) scale(0.5)" font-size="10" text-anchor="middle" fill="#111"  stroke="#111" stroke-width="0.2">9</text>
<line x1="441.3" y1="145.7" x2="441.3" y2="147" stroke="#333" stroke-width="0.5" />
<text transform="translate(441.3,151.7) scale(0.5)" font-size="10" text-anchor="middle" fill="#111"  stroke="#111" stroke-width="0.2">10</text>
<line x1="449.01" y1="145.7" x2="449.01" y2="147" stroke="#333" stroke-width="0.5" />
<text transform="translate(449.01,151.7) scale(0.5)" font-size="10" text-anchor="middle" fill="#111"  stroke="#111" stroke-width="0.2">11</text>
<line x1="456.72" y1="145.7" x2="456.72" y2="147" stroke="#333" stroke-width="0.5" />
<text transform="translate(456.72,151.7) scale(0.5)" font-size="10" text-anchor="middle" fill="#111"  stroke="#111" stroke-width="0.2">12</text>
<line x1="464.43" y1="145.7" x2="464.43" y2="147" stroke="#333" stroke-width="0.5" />
<text transform="translate(464.43,151.7) scale(0.5)" font-size="10" text-anchor="middle" fill="#111"  stroke="#111" stroke-width="0.2">13</text>
<line x1="472.14" y1="145.7" x2="472.14" y2="147" stroke="#333" stroke-width="0.5" />
<text transform="translate(472.14,151.7) scale(0.5)" font-size="10" text-anchor="middle" fill="#111"  stroke="#111" stroke-width="0.2">14</text>
<line x1="479.85" y1="145.7" x2="479.85" y2="147" stroke="#333" stroke-width="0.5" />
<text transform="translate(479.85,151.7) scale(0.5)" font-size="10" text-anchor="middle" fill="#111"  stroke="#111" stroke-width="0.2">15</text>
<line x1="487.56" y1="145.7" x2="487.56" y2="147" stroke="#333" stroke-width="0.5" />
<text transform="translate(487.56,151.7) scale(0.5)" font-size="10" text-anchor="middle" fill="#111"  stroke="#111" stroke-width="0.2">16</text>
<line x1="495.27" y1="145.7" x2="495.27" y2="147" stroke="#333" stroke-width="0.5" />
<text transform="translate(495.27,151.7) scale(0.5)" font-size="10" text-anchor="middle" fill="#111"  stroke="#111" stroke-width="0.2">17</text>
<line x1="502.98" y1="145.7" x2="502.98" y2="147" stroke="#333" stroke-width="0.5" />
<text transform="translate(502.98,151.7) scale(0.5)" font-size="10" text-anchor="middle" fill="#111"  stroke="#111" stroke-width="0.2">18</text>
<line x1="510.69" y1="145.7" x2="510.69" y2="147" stroke="#333" stroke-width="0.5" />
<text transform="translate(510.69,151.7) scale(0.5)" font-size="10" text-anchor="middle" fill="#111"  stroke="#111" stroke-width="0.2">19</text>
<line x1="518.4" y1="145.7" x2="518.4" y2="147" stroke="#333" stroke-width="0.5" />
<text transform="translate(518.4,151.7) scale(0.5)" font-size="10" text-anchor="middle" fill="#111"  stroke="#111" stroke-width="0.2">20</text>
<line x1="526.11" y1="145.7" x2="526.11" y2="147" stroke="#333" stroke-width="0.5" />
<text transform="translate(526.11,151.7) scale(0.5)" font-size="10" text-anchor="middle" fill="#111"  stroke="#111" stroke-width="0.2">21</text>
<line x1="533.82" y1="145.7" x2="533.82" y2="147" stroke="#333" stroke-width="0.5" />
<text transform="translate(533.82,151.7) scale(0.5)" font-size="10" text-anchor="middle" fill="#111"  stroke="#111" stroke-width="0.2">22</text>
<line x1="541.53" y1="145.7" x2="541.53" y2="147" stroke="#333" stroke-width="0.5" />
<text transform="translate(541.53,151.7) scale(0.5)" font-size="10" text-anchor="middle" fill="#111"  stroke="#111" stroke-width="0.2">23</text>
<line x1="549.24" y1="145.7" x2="549.24" y2="147" stroke="#333" stroke-width="0.5" />
<text transform="translate(549.24,151.7) scale(0.5)" font-size="10" text-anchor="middle" fill="#111"  stroke="#111" stroke-width="0.2">24</text>
<line x1="556.95" y1="145.7" x2="556.95" y2="147" stroke="#333" stroke-width="0.5" />
<text transform="translate(556.95,151.7) scale(0.5)" font-size="10" text-anchor="middle" fill="#111"  stroke="#111" stroke-width="0.2">25</text>
<line x1="564.66" y1="145.7" x2="564.66" y2="147" stroke="#333" stroke-width="0.5" />
<text transform="translate(564.66,151.7) scale(0.5)" font-size="10" text-anchor="middle" fill="#111"  stroke="#111" stroke-width="0.2">26</text>
<line x1="572.37" y1="145.7" x2="572.37" y2="147" stroke="#333" stroke-width="0.5" />
<text transform="translate(572.37,151.7) scale(0.5)" font-size="10" text-anchor="middle" fill="#111"  stroke="#111" stroke-width="0.2">27</text>
<line x1="580.08" y1="145.7" x2="580.08" y2="147" stroke="#333" stroke-width="0.5" />
<text transform="translate(580.08,151.7) scale(0.5)" font-size="10" text-anchor="middle" fill="#111"  stroke="#111" stroke-width="0.2">28</text>
<line x1="587.79" y1="145.7" x2="587.79" y2="147" stroke="#333" stroke-width="0.5" />
<text transform="translate(587.79,151.7) scale(0.5)" font-size="10" text-anchor="middle" fill="#111"  stroke="#111" stroke-width="0.2">29</text>
<line x1="595.5" y1="145.7" x2="595.5" y2="147" stroke="#333" stroke-width="0.5" />
<text transform="translate(595.5,151.7) scale(0.5)" font-size="10" text-anchor="middle" fill="#111"  stroke="#111" stroke-width="0.2">30</text>
<line x1="603.21" y1="145.7" x2="603.21" y2="147" stroke="#333" stroke-width="0.5" />
<text transform="translate(603.21,151.7) scale(0.5)" font-size="10" text-anchor="middle" fill="#111"  stroke="#111" stroke-width="0.2">31</text>
<text x="480.5" y="158.5" font-size="5.6" text-anchor="middle" fill="#111"  stroke="#111" stroke-width="0.15">Time(years)</text>
<text transform="translate(329.6,103.2) rotate(-90) scale(1)" font-size="5.5" text-anchor="middle" fill="#111" stroke="#111" stroke-width="0.1">Survival probability</text>
<text x="369.3" y="129.4" font-size="6.5" text-anchor="start" fill="#111"  stroke="#111" stroke-width="0.1">p=0.003</text>
<text transform="translate(329.2,178.3) rotate(-90) scale(1)" font-size="5.2" text-anchor="middle" fill="#111" stroke="#111" stroke-width="0.12">Risk</text>
<text transform="translate(350.1,177.3) scale(0.5)" font-size="9.6" text-anchor="end" fill="#ff0000"  stroke="#ff0000" stroke-width="0.24">High risk</text>
<text transform="translate(350.1,182.9) scale(0.5)" font-size="9.6" text-anchor="end" fill="#0000ff"  stroke="#0000ff" stroke-width="0.24">Low risk</text>
<line x1="352.4" y1="172.8" x2="352.4" y2="185.6" stroke="#333" stroke-width="0.6" />
<line x1="350.9" y1="175.6" x2="352.4" y2="175.6" stroke="#333" stroke-width="0.5" />
<line x1="350.9" y1="181.2" x2="352.4" y2="181.2" stroke="#333" stroke-width="0.5" />
<line x1="352.1" y1="185.3" x2="608.3" y2="185.3" stroke="#333" stroke-width="0.6" />
<text transform="translate(364.2,177.4) scale(0.5)" font-size="10.2" text-anchor="middle" fill="#111"  stroke="#111" stroke-width="0.36">172</text>
<text transform="translate(364.2,183) scale(0.5)" font-size="10.2" text-anchor="middle" fill="#111"  stroke="#111" stroke-width="0.36">182</text>
<line x1="364.2" y1="185.3" x2="364.2" y2="186.6" stroke="#333" stroke-width="0.5" />
<text transform="translate(364.2,191.3) scale(0.5)" font-size="10" text-anchor="middle" fill="#111"  stroke="#111" stroke-width="0.2">0</text>
<text transform="translate(371.91,177.4) scale(0.5)" font-size="10.2" text-anchor="middle" fill="#111"  stroke="#111" stroke-width="0.36">114</text>
<text transform="translate(371.91,183) scale(0.5)" font-size="10.2" text-anchor="middle" fill="#111"  stroke="#111" stroke-width="0.36">142</text>
<line x1="371.91" y1="185.3" x2="371.91" y2="186.6" stroke="#333" stroke-width="0.5" />
<text transform="translate(371.91,191.3) scale(0.5)" font-size="10" text-anchor="middle" fill="#111"  stroke="#111" stroke-width="0.2">1</text>
<text transform="translate(379.62,177.4) scale(0.5)" font-size="10.2" text-anchor="middle" fill="#111"  stroke="#111" stroke-width="0.36">74</text>
<text transform="translate(379.62,183) scale(0.5)" font-size="10.2" text-anchor="middle" fill="#111"  stroke="#111" stroke-width="0.36">103</text>
<line x1="379.62" y1="185.3" x2="379.62" y2="186.6" stroke="#333" stroke-width="0.5" />
<text transform="translate(379.62,191.3) scale(0.5)" font-size="10" text-anchor="middle" fill="#111"  stroke="#111" stroke-width="0.2">2</text>
<text transform="translate(387.33,177.4) scale(0.5)" font-size="10.2" text-anchor="middle" fill="#111"  stroke="#111" stroke-width="0.36">60</text>
<text transform="translate(387.33,183) scale(0.5)" font-size="10.2" text-anchor="middle" fill="#111"  stroke="#111" stroke-width="0.36">89</text>
<line x1="387.33" y1="185.3" x2="387.33" y2="186.6" stroke="#333" stroke-width="0.5" />
<text transform="translate(387.33,191.3) scale(0.5)" font-size="10" text-anchor="middle" fill="#111"  stroke="#111" stroke-width="0.2">3</text>
<text transform="translate(395.04,177.4) scale(0.5)" font-size="10.2" text-anchor="middle" fill="#111"  stroke="#111" stroke-width="0.36">44</text>
<text transform="translate(395.04,183) scale(0.5)" font-size="10.2" text-anchor="middle" fill="#111"  stroke="#111" stroke-width="0.36">65</text>
<line x1="395.04" y1="185.3" x2="395.04" y2="186.6" stroke="#333" stroke-width="0.5" />
<text transform="translate(395.04,191.3) scale(0.5)" font-size="10" text-anchor="middle" fill="#111"  stroke="#111" stroke-width="0.2">4</text>
<text transform="translate(402.75,177.4) scale(0.5)" font-size="10.2" text-anchor="middle" fill="#111"  stroke="#111" stroke-width="0.36">39</text>
<text transform="translate(402.75,183) scale(0.5)" font-size="10.2" text-anchor="middle" fill="#111"  stroke="#111" stroke-width="0.36">52</text>
<line x1="402.75" y1="185.3" x2="402.75" y2="186.6" stroke="#333" stroke-width="0.5" />
<text transform="translate(402.75,191.3) scale(0.5)" font-size="10" text-anchor="middle" fill="#111"  stroke="#111" stroke-width="0.2">5</text>
<text transform="translate(410.46,177.4) scale(0.5)" font-size="10.2" text-anchor="middle" fill="#111"  stroke="#111" stroke-width="0.36">33</text>
<text transform="translate(410.46,183) scale(0.5)" font-size="10.2" text-anchor="middle" fill="#111"  stroke="#111" stroke-width="0.36">50</text>
<line x1="410.46" y1="185.3" x2="410.46" y2="186.6" stroke="#333" stroke-width="0.5" />
<text transform="translate(410.46,191.3) scale(0.5)" font-size="10" text-anchor="middle" fill="#111"  stroke="#111" stroke-width="0.2">6</text>
<text transform="translate(418.17,177.4) scale(0.5)" font-size="10.2" text-anchor="middle" fill="#111"  stroke="#111" stroke-width="0.36">30</text>
<text transform="translate(418.17,183) scale(0.5)" font-size="10.2" text-anchor="middle" fill="#111"  stroke="#111" stroke-width="0.36">43</text>
<line x1="418.17" y1="185.3" x2="418.17" y2="186.6" stroke="#333" stroke-width="0.5" />
<text transform="translate(418.17,191.3) scale(0.5)" font-size="10" text-anchor="middle" fill="#111"  stroke="#111" stroke-width="0.2">7</text>
<text transform="translate(425.88,177.4) scale(0.5)" font-size="10.2" text-anchor="middle" fill="#111"  stroke="#111" stroke-width="0.36">28</text>
<text transform="translate(425.88,183) scale(0.5)" font-size="10.2" text-anchor="middle" fill="#111"  stroke="#111" stroke-width="0.36">34</text>
<line x1="425.88" y1="185.3" x2="425.88" y2="186.6" stroke="#333" stroke-width="0.5" />
<text transform="translate(425.88,191.3) scale(0.5)" font-size="10" text-anchor="middle" fill="#111"  stroke="#111" stroke-width="0.2">8</text>
<text transform="translate(433.59,177.4) scale(0.5)" font-size="10.2" text-anchor="middle" fill="#111"  stroke="#111" stroke-width="0.36">24</text>
<text transform="translate(433.59,183) scale(0.5)" font-size="10.2" text-anchor="middle" fill="#111"  stroke="#111" stroke-width="0.36">26</text>
<line x1="433.59" y1="185.3" x2="433.59" y2="186.6" stroke="#333" stroke-width="0.5" />
<text transform="translate(433.59,191.3) scale(0.5)" font-size="10" text-anchor="middle" fill="#111"  stroke="#111" stroke-width="0.2">9</text>
<text transform="translate(441.3,177.4) scale(0.5)" font-size="10.2" text-anchor="middle" fill="#111"  stroke="#111" stroke-width="0.36">19</text>
<text transform="translate(441.3,183) scale(0.5)" font-size="10.2" text-anchor="middle" fill="#111"  stroke="#111" stroke-width="0.36">21</text>
<line x1="441.3" y1="185.3" x2="441.3" y2="186.6" stroke="#333" stroke-width="0.5" />
<text transform="translate(441.3,191.3) scale(0.5)" font-size="10" text-anchor="middle" fill="#111"  stroke="#111" stroke-width="0.2">10</text>
<text transform="translate(449.01,177.4) scale(0.5)" font-size="10.2" text-anchor="middle" fill="#111"  stroke="#111" stroke-width="0.36">12</text>
<text transform="translate(449.01,183) scale(0.5)" font-size="10.2" text-anchor="middle" fill="#111"  stroke="#111" stroke-width="0.36">17</text>
<line x1="449.01" y1="185.3" x2="449.01" y2="186.6" stroke="#333" stroke-width="0.5" />
<text transform="translate(449.01,191.3) scale(0.5)" font-size="10" text-anchor="middle" fill="#111"  stroke="#111" stroke-width="0.2">11</text>
<text transform="translate(456.72,177.4) scale(0.5)" font-size="10.2" text-anchor="middle" fill="#111"  stroke="#111" stroke-width="0.36">11</text>
<text transform="translate(456.72,183) scale(0.5)" font-size="10.2" text-anchor="middle" fill="#111"  stroke="#111" stroke-width="0.36">13</text>
<line x1="456.72" y1="185.3" x2="456.72" y2="186.6" stroke="#333" stroke-width="0.5" />
<text transform="translate(456.72,191.3) scale(0.5)" font-size="10" text-anchor="middle" fill="#111"  stroke="#111" stroke-width="0.2">12</text>
<text transform="translate(464.43,177.4) scale(0.5)" font-size="10.2" text-anchor="middle" fill="#111"  stroke="#111" stroke-width="0.36">11</text>
<text transform="translate(464.43,183) scale(0.5)" font-size="10.2" text-anchor="middle" fill="#111"  stroke="#111" stroke-width="0.36">11</text>
<line x1="464.43" y1="185.3" x2="464.43" y2="186.6" stroke="#333" stroke-width="0.5" />
<text transform="translate(464.43,191.3) scale(0.5)" font-size="10" text-anchor="middle" fill="#111"  stroke="#111" stroke-width="0.2">13</text>
<text transform="translate(472.14,177.4) scale(0.5)" font-size="10.2" text-anchor="middle" fill="#111"  stroke="#111" stroke-width="0.36">9</text>
<text transform="translate(472.14,183) scale(0.5)" font-size="10.2" text-anchor="middle" fill="#111"  stroke="#111" stroke-width="0.36">11</text>
<line x1="472.14" y1="185.3" x2="472.14" y2="186.6" stroke="#333" stroke-width="0.5" />
<text transform="translate(472.14,191.3) scale(0.5)" font-size="10" text-anchor="middle" fill="#111"  stroke="#111" stroke-width="0.2">14</text>
<text transform="translate(479.85,177.4) scale(0.5)" font-size="10.2" text-anchor="middle" fill="#111"  stroke="#111" stroke-width="0.36">6</text>
<text transform="translate(479.85,183) scale(0.5)" font-size="10.2" text-anchor="middle" fill="#111"  stroke="#111" stroke-width="0.36">10</text>
<line x1="479.85" y1="185.3" x2="479.85" y2="186.6" stroke="#333" stroke-width="0.5" />
<text transform="translate(479.85,191.3) scale(0.5)" font-size="10" text-anchor="middle" fill="#111"  stroke="#111" stroke-width="0.2">15</text>
<text transform="translate(487.56,177.4) scale(0.5)" font-size="10.2" text-anchor="middle" fill="#111"  stroke="#111" stroke-width="0.36">5</text>
<text transform="translate(487.56,183) scale(0.5)" font-size="10.2" text-anchor="middle" fill="#111"  stroke="#111" stroke-width="0.36">7</text>
<line x1="487.56" y1="185.3" x2="487.56" y2="186.6" stroke="#333" stroke-width="0.5" />
<text transform="translate(487.56,191.3) scale(0.5)" font-size="10" text-anchor="middle" fill="#111"  stroke="#111" stroke-width="0.2">16</text>
<text transform="translate(495.27,177.4) scale(0.5)" font-size="10.2" text-anchor="middle" fill="#111"  stroke="#111" stroke-width="0.36">4</text>
<text transform="translate(495.27,183) scale(0.5)" font-size="10.2" text-anchor="middle" fill="#111"  stroke="#111" stroke-width="0.36">6</text>
<line x1="495.27" y1="185.3" x2="495.27" y2="186.6" stroke="#333" stroke-width="0.5" />
<text transform="translate(495.27,191.3) scale(0.5)" font-size="10" text-anchor="middle" fill="#111"  stroke="#111" stroke-width="0.2">17</text>
<text transform="translate(502.98,177.4) scale(0.5)" font-size="10.2" text-anchor="middle" fill="#111"  stroke="#111" stroke-width="0.36">3</text>
<text transform="translate(502.98,183) scale(0.5)" font-size="10.2" text-anchor="middle" fill="#111"  stroke="#111" stroke-width="0.36">3</text>
<line x1="502.98" y1="185.3" x2="502.98" y2="186.6" stroke="#333" stroke-width="0.5" />
<text transform="translate(502.98,191.3) scale(0.5)" font-size="10" text-anchor="middle" fill="#111"  stroke="#111" stroke-width="0.2">18</text>
<text transform="translate(510.69,177.4) scale(0.5)" font-size="10.2" text-anchor="middle" fill="#111"  stroke="#111" stroke-width="0.36">3</text>
<text transform="translate(510.69,183) scale(0.5)" font-size="10.2" text-anchor="middle" fill="#111"  stroke="#111" stroke-width="0.36">1</text>
<line x1="510.69" y1="185.3" x2="510.69" y2="186.6" stroke="#333" stroke-width="0.5" />
<text transform="translate(510.69,191.3) scale(0.5)" font-size="10" text-anchor="middle" fill="#111"  stroke="#111" stroke-width="0.2">19</text>
<text transform="translate(518.4,177.4) scale(0.5)" font-size="10.2" text-anchor="middle" fill="#111"  stroke="#111" stroke-width="0.36">2</text>
<text transform="translate(518.4,183) scale(0.5)" font-size="10.2" text-anchor="middle" fill="#111"  stroke="#111" stroke-width="0.36">1</text>
<line x1="518.4" y1="185.3" x2="518.4" y2="186.6" stroke="#333" stroke-width="0.5" />
<text transform="translate(518.4,191.3) scale(0.5)" font-size="10" text-anchor="middle" fill="#111"  stroke="#111" stroke-width="0.2">20</text>
<text transform="translate(526.11,177.4) scale(0.5)" font-size="10.2" text-anchor="middle" fill="#111"  stroke="#111" stroke-width="0.36">2</text>
<text transform="translate(526.11,183) scale(0.5)" font-size="10.2" text-anchor="middle" fill="#111"  stroke="#111" stroke-width="0.36">1</text>
<line x1="526.11" y1="185.3" x2="526.11" y2="186.6" stroke="#333" stroke-width="0.5" />
<text transform="translate(526.11,191.3) scale(0.5)" font-size="10" text-anchor="middle" fill="#111"  stroke="#111" stroke-width="0.2">21</text>
<text transform="translate(533.82,177.4) scale(0.5)" font-size="10.2" text-anchor="middle" fill="#111"  stroke="#111" stroke-width="0.36">1</text>
<text transform="translate(533.82,183) scale(0.5)" font-size="10.2" text-anchor="middle" fill="#111"  stroke="#111" stroke-width="0.36">1</text>
<line x1="533.82" y1="185.3" x2="533.82" y2="186.6" stroke="#333" stroke-width="0.5" />
<text transform="translate(533.82,191.3) scale(0.5)" font-size="10" text-anchor="middle" fill="#111"  stroke="#111" stroke-width="0.2">22</text>
<text transform="translate(541.53,177.4) scale(0.5)" font-size="10.2" text-anchor="middle" fill="#111"  stroke="#111" stroke-width="0.36">1</text>
<text transform="translate(541.53,183) scale(0.5)" font-size="10.2" text-anchor="middle" fill="#111"  stroke="#111" stroke-width="0.36">1</text>
<line x1="541.53" y1="185.3" x2="541.53" y2="186.6" stroke="#333" stroke-width="0.5" />
<text transform="translate(541.53,191.3) scale(0.5)" font-size="10" text-anchor="middle" fill="#111"  stroke="#111" stroke-width="0.2">23</text>
<text transform="translate(549.24,177.4) scale(0.5)" font-size="10.2" text-anchor="middle" fill="#111"  stroke="#111" stroke-width="0.36">1</text>
<text transform="translate(549.24,183) scale(0.5)" font-size="10.2" text-anchor="middle" fill="#111"  stroke="#111" stroke-width="0.36">0</text>
<line x1="549.24" y1="185.3" x2="549.24" y2="186.6" stroke="#333" stroke-width="0.5" />
<text transform="translate(549.24,191.3) scale(0.5)" font-size="10" text-anchor="middle" fill="#111"  stroke="#111" stroke-width="0.2">24</text>
<text transform="translate(556.95,177.4) scale(0.5)" font-size="10.2" text-anchor="middle" fill="#111"  stroke="#111" stroke-width="0.36">1</text>
<text transform="translate(556.95,183) scale(0.5)" font-size="10.2" text-anchor="middle" fill="#111"  stroke="#111" stroke-width="0.36">0</text>
<line x1="556.95" y1="185.3" x2="556.95" y2="186.6" stroke="#333" stroke-width="0.5" />
<text transform="translate(556.95,191.3) scale(0.5)" font-size="10" text-anchor="middle" fill="#111"  stroke="#111" stroke-width="0.2">25</text>
<text transform="translate(564.66,177.4) scale(0.5)" font-size="10.2" text-anchor="middle" fill="#111"  stroke="#111" stroke-width="0.36">1</text>
<text transform="translate(564.66,183) scale(0.5)" font-size="10.2" text-anchor="middle" fill="#111"  stroke="#111" stroke-width="0.36">0</text>
<line x1="564.66" y1="185.3" x2="564.66" y2="186.6" stroke="#333" stroke-width="0.5" />
<text transform="translate(564.66,191.3) scale(0.5)" font-size="10" text-anchor="middle" fill="#111"  stroke="#111" stroke-width="0.2">26</text>
<text transform="translate(572.37,177.4) scale(0.5)" font-size="10.2" text-anchor="middle" fill="#111"  stroke="#111" stroke-width="0.36">1</text>
<text transform="translate(572.37,183) scale(0.5)" font-size="10.2" text-anchor="middle" fill="#111"  stroke="#111" stroke-width="0.36">0</text>
<line x1="572.37" y1="185.3" x2="572.37" y2="186.6" stroke="#333" stroke-width="0.5" />
<text transform="translate(572.37,191.3) scale(0.5)" font-size="10" text-anchor="middle" fill="#111"  stroke="#111" stroke-width="0.2">27</text>
<text transform="translate(580.08,177.4) scale(0.5)" font-size="10.2" text-anchor="middle" fill="#111"  stroke="#111" stroke-width="0.36">1</text>
<text transform="translate(580.08,183) scale(0.5)" font-size="10.2" text-anchor="middle" fill="#111"  stroke="#111" stroke-width="0.36">0</text>
<line x1="580.08" y1="185.3" x2="580.08" y2="186.6" stroke="#333" stroke-width="0.5" />
<text transform="translate(580.08,191.3) scale(0.5)" font-size="10" text-anchor="middle" fill="#111"  stroke="#111" stroke-width="0.2">28</text>
<text transform="translate(587.79,177.4) scale(0.5)" font-size="10.2" text-anchor="middle" fill="#111"  stroke="#111" stroke-width="0.36">1</text>
<text transform="translate(587.79,183) scale(0.5)" font-size="10.2" text-anchor="middle" fill="#111"  stroke="#111" stroke-width="0.36">0</text>
<line x1="587.79" y1="185.3" x2="587.79" y2="186.6" stroke="#333" stroke-width="0.5" />
<text transform="translate(587.79,191.3) scale(0.5)" font-size="10" text-anchor="middle" fill="#111"  stroke="#111" stroke-width="0.2">29</text>
<text transform="translate(595.5,177.4) scale(0.5)" font-size="10.2" text-anchor="middle" fill="#111"  stroke="#111" stroke-width="0.36">1</text>
<text transform="translate(595.5,183) scale(0.5)" font-size="10.2" text-anchor="middle" fill="#111"  stroke="#111" stroke-width="0.36">0</text>
<line x1="595.5" y1="185.3" x2="595.5" y2="186.6" stroke="#333" stroke-width="0.5" />
<text transform="translate(595.5,191.3) scale(0.5)" font-size="10" text-anchor="middle" fill="#111"  stroke="#111" stroke-width="0.2">30</text>
<text transform="translate(603.21,177.4) scale(0.5)" font-size="10.2" text-anchor="middle" fill="#111"  stroke="#111" stroke-width="0.36">1</text>
<text transform="translate(603.21,183) scale(0.5)" font-size="10.2" text-anchor="middle" fill="#111"  stroke="#111" stroke-width="0.36">0</text>
<line x1="603.21" y1="185.3" x2="603.21" y2="186.6" stroke="#333" stroke-width="0.5" />
<text transform="translate(603.21,191.3) scale(0.5)" font-size="10" text-anchor="middle" fill="#111"  stroke="#111" stroke-width="0.2">31</text>
<text x="480.5" y="197.9" font-size="5.6" text-anchor="middle" fill="#111"  stroke="#111" stroke-width="0.15">Time(years)</text>
<text x="83.3" y="234.8" font-size="5.95" text-anchor="middle" fill="#000"  stroke="#000" stroke-width="0.13">pvalue</text>
<text x="149.2" y="234.8" font-size="5.95" text-anchor="end" fill="#000"  stroke="#000" stroke-width="0.13">Hazard ratio</text>
<text x="41.9" y="267.44" font-size="5.95" text-anchor="start" fill="#000"  stroke="#000" stroke-width="0.13">Age</text>
<text x="91.6" y="267.44" font-size="5.95" text-anchor="end" fill="#000"  stroke="#000" stroke-width="0.13">&lt;0.001</text>
<text x="149.2" y="267.44" font-size="5.95" text-anchor="end" fill="#000"  stroke="#000" stroke-width="0.13">1.020(1.010−1.030)</text>
<text x="41.9" y="300.14" font-size="5.95" text-anchor="start" fill="#000"  stroke="#000" stroke-width="0.13">Gender</text>
<text x="91.6" y="300.14" font-size="5.95" text-anchor="end" fill="#000"  stroke="#000" stroke-width="0.13">0.856</text>
<text x="149.2" y="300.14" font-size="5.95" text-anchor="end" fill="#000"  stroke="#000" stroke-width="0.13">0.973(0.722−1.311)</text>
<text x="41.9" y="332.04" font-size="5.95" text-anchor="start" fill="#000"  stroke="#000" stroke-width="0.13">Stage</text>
<text x="91.6" y="332.04" font-size="5.95" text-anchor="end" fill="#000"  stroke="#000" stroke-width="0.13">&lt;0.001</text>
<text x="149.2" y="332.04" font-size="5.95" text-anchor="end" fill="#000"  stroke="#000" stroke-width="0.13">1.376(1.171−1.616)</text>
<text x="41.9" y="364.14" font-size="5.95" text-anchor="start" fill="#000"  stroke="#000" stroke-width="0.13">riskScore</text>
<text x="91.6" y="364.14" font-size="5.95" text-anchor="end" fill="#000"  stroke="#000" stroke-width="0.13">&lt;0.001</text>
<text x="149.2" y="364.14" font-size="5.95" text-anchor="end" fill="#000"  stroke="#000" stroke-width="0.13">2.413(1.896−3.071)</text>
<line x1="203.33" y1="230.5" x2="203.33" y2="367.4" stroke="#222" stroke-width="1" stroke-dasharray="3.4,3.6"/>
<rect x="201.4" y="262.7" width="5.2" height="5.2" fill="#00ee00" stroke="none" stroke-width="1" />
<line x1="193.95" y1="298" x2="213.82" y2="298" stroke="#25258f" stroke-width="1.1" />
<line x1="193.95" y1="295.3" x2="193.95" y2="300.7" stroke="#25258f" stroke-width="1.1" />
<line x1="213.82" y1="295.3" x2="213.82" y2="300.7" stroke="#25258f" stroke-width="1.1" />
<rect x="199.82" y="295.4" width="5.2" height="5.2" fill="#00ee00" stroke="none" stroke-width="1" />
<line x1="209.1" y1="329.9" x2="224.11" y2="329.9" stroke="#25258f" stroke-width="1.1" />
<line x1="209.1" y1="327.2" x2="209.1" y2="332.6" stroke="#25258f" stroke-width="1.1" />
<line x1="224.11" y1="327.2" x2="224.11" y2="332.6" stroke="#25258f" stroke-width="1.1" />
<rect x="213.41" y="327.3" width="5.2" height="5.2" fill="#00ee00" stroke="none" stroke-width="1" />
<line x1="233.55" y1="362" x2="273.18" y2="362" stroke="#25258f" stroke-width="1.1" />
<line x1="233.55" y1="359.3" x2="233.55" y2="364.7" stroke="#25258f" stroke-width="1.1" />
<line x1="273.18" y1="359.3" x2="273.18" y2="364.7" stroke="#25258f" stroke-width="1.1" />
<rect x="248.39" y="359.4" width="5.2" height="5.2" fill="#00ee00" stroke="none" stroke-width="1" />
<line x1="169.6" y1="367.4" x2="270.79" y2="367.4" stroke="#555" stroke-width="0.8" />
<line x1="169.6" y1="367.4" x2="169.6" y2="370.1" stroke="#555" stroke-width="0.8" />
<text x="169.6" y="378.1" font-size="7.1" text-anchor="middle" fill="#111"  stroke="#111" stroke-width="0.12">0.0</text>
<line x1="186.47" y1="367.4" x2="186.47" y2="370.1" stroke="#555" stroke-width="0.8" />
<text x="186.47" y="378.1" font-size="7.1" text-anchor="middle" fill="#111"  stroke="#111" stroke-width="0.12">0.5</text>
<line x1="203.33" y1="367.4" x2="203.33" y2="370.1" stroke="#555" stroke-width="0.8" />
<text x="203.33" y="378.1" font-size="7.1" text-anchor="middle" fill="#111"  stroke="#111" stroke-width="0.12">1.0</text>
<line x1="220.19" y1="367.4" x2="220.19" y2="370.1" stroke="#555" stroke-width="0.8" />
<text x="220.19" y="378.1" font-size="7.1" text-anchor="middle" fill="#111"  stroke="#111" stroke-width="0.12">1.5</text>
<line x1="237.06" y1="367.4" x2="237.06" y2="370.1" stroke="#555" stroke-width="0.8" />
<text x="237.06" y="378.1" font-size="7.1" text-anchor="middle" fill="#111"  stroke="#111" stroke-width="0.12">2.0</text>
<line x1="253.92" y1="367.4" x2="253.92" y2="370.1" stroke="#555" stroke-width="0.8" />
<text x="253.92" y="378.1" font-size="7.1" text-anchor="middle" fill="#111"  stroke="#111" stroke-width="0.12">2.5</text>
<line x1="270.79" y1="367.4" x2="270.79" y2="370.1" stroke="#555" stroke-width="0.8" />
<text x="270.79" y="378.1" font-size="7.1" text-anchor="middle" fill="#111"  stroke="#111" stroke-width="0.12">3.0</text>
<text x="221.6" y="390.8" font-size="7" text-anchor="middle" fill="#111"  stroke="#111" stroke-width="0.12">Hazard ratio</text>
<text x="386.4" y="233" font-size="6" text-anchor="middle" fill="#000"  stroke="#000" stroke-width="0.13">pvalue</text>
<text x="453" y="233" font-size="6" text-anchor="end" fill="#000"  stroke="#000" stroke-width="0.13">Hazard ratio</text>
<text x="344.6" y="265.76" font-size="6" text-anchor="start" fill="#000"  stroke="#000" stroke-width="0.13">Gender</text>
<text x="395" y="265.76" font-size="6" text-anchor="end" fill="#000"  stroke="#000" stroke-width="0.13">0.434</text>
<text x="453" y="265.76" font-size="6" text-anchor="end" fill="#000"  stroke="#000" stroke-width="0.13">1.124(0.839−1.506)</text>
<text x="344.6" y="298.36" font-size="6" text-anchor="start" fill="#000"  stroke="#000" stroke-width="0.13">Age</text>
<text x="395" y="298.36" font-size="6" text-anchor="end" fill="#000"  stroke="#000" stroke-width="0.13">0.134</text>
<text x="453" y="298.36" font-size="6" text-anchor="end" fill="#000"  stroke="#000" stroke-width="0.13">1.007(0.998−1.016)</text>
<text x="344.6" y="330.96" font-size="6" text-anchor="start" fill="#000"  stroke="#000" stroke-width="0.13">Stage</text>
<text x="395" y="330.96" font-size="6" text-anchor="end" fill="#000"  stroke="#000" stroke-width="0.13">&lt;0.001</text>
<text x="453" y="330.96" font-size="6" text-anchor="end" fill="#000"  stroke="#000" stroke-width="0.13">1.865(1.540−2.258)</text>
<text x="344.6" y="363.66" font-size="6" text-anchor="start" fill="#000"  stroke="#000" stroke-width="0.13">riskScore</text>
<text x="395" y="363.66" font-size="6" text-anchor="end" fill="#000"  stroke="#000" stroke-width="0.13">&lt;0.001</text>
<text x="453" y="363.66" font-size="6" text-anchor="end" fill="#000"  stroke="#000" stroke-width="0.13">2.266(1.511−3.400)</text>
<line x1="505.1" y1="229.2" x2="505.1" y2="366" stroke="#222" stroke-width="1" stroke-dasharray="3.4,3.6"/>
<line x1="500.16" y1="263.6" x2="520.63" y2="263.6" stroke="#25258f" stroke-width="1.1" />
<line x1="500.16" y1="260.9" x2="500.16" y2="266.3" stroke="#25258f" stroke-width="1.1" />
<line x1="520.63" y1="260.9" x2="520.63" y2="266.3" stroke="#25258f" stroke-width="1.1" />
<rect x="506.31" y="261" width="5.2" height="5.2" fill="#00ee00" stroke="none" stroke-width="1" />
<rect x="502.71" y="293.6" width="5.2" height="5.2" fill="#00ee00" stroke="none" stroke-width="1" />
<line x1="521.68" y1="328.8" x2="543.72" y2="328.8" stroke="#25258f" stroke-width="1.1" />
<line x1="521.68" y1="326.1" x2="521.68" y2="331.5" stroke="#25258f" stroke-width="1.1" />
<line x1="543.72" y1="326.1" x2="543.72" y2="331.5" stroke="#25258f" stroke-width="1.1" />
<rect x="529.06" y="326.2" width="5.2" height="5.2" fill="#00ee00" stroke="none" stroke-width="1" />
<line x1="520.79" y1="361.5" x2="578.78" y2="361.5" stroke="#25258f" stroke-width="1.1" />
<line x1="520.79" y1="358.8" x2="520.79" y2="364.2" stroke="#25258f" stroke-width="1.1" />
<line x1="578.78" y1="358.8" x2="578.78" y2="364.2" stroke="#25258f" stroke-width="1.1" />
<rect x="541.37" y="358.9" width="5.2" height="5.2" fill="#00ee00" stroke="none" stroke-width="1" />
<line x1="474.4" y1="366" x2="566.5" y2="366" stroke="#555" stroke-width="0.8" />
<line x1="474.4" y1="366" x2="474.4" y2="370.5" stroke="#555" stroke-width="0.8" />
<text x="474.4" y="377.7" font-size="7.3" text-anchor="middle" fill="#111"  stroke="#111" stroke-width="0.12">0.0</text>
<line x1="489.75" y1="366" x2="489.75" y2="370.5" stroke="#555" stroke-width="0.8" />
<line x1="505.1" y1="366" x2="505.1" y2="370.5" stroke="#555" stroke-width="0.8" />
<text x="505.1" y="377.7" font-size="7.3" text-anchor="middle" fill="#111"  stroke="#111" stroke-width="0.12">1.0</text>
<line x1="520.45" y1="366" x2="520.45" y2="370.5" stroke="#555" stroke-width="0.8" />
<line x1="535.8" y1="366" x2="535.8" y2="370.5" stroke="#555" stroke-width="0.8" />
<text x="535.8" y="377.7" font-size="7.3" text-anchor="middle" fill="#111"  stroke="#111" stroke-width="0.12">2.0</text>
<line x1="551.15" y1="366" x2="551.15" y2="370.5" stroke="#555" stroke-width="0.8" />
<line x1="566.5" y1="366" x2="566.5" y2="370.5" stroke="#555" stroke-width="0.8" />
<text x="566.5" y="377.7" font-size="7.3" text-anchor="middle" fill="#111"  stroke="#111" stroke-width="0.12">3.0</text>
<text x="526.3" y="390.5" font-size="7.1" text-anchor="middle" fill="#111"  stroke="#111" stroke-width="0.12">Hazard ratio</text>
<text x="73.6" y="449.4" font-size="6.45" text-anchor="middle" fill="#000"  stroke="#000" stroke-width="0.13">pvalue</text>
<text x="145.3" y="449.4" font-size="6.45" text-anchor="end" fill="#000"  stroke="#000" stroke-width="0.13">Hazard ratio</text>
<text x="28" y="481.72" font-size="6.45" text-anchor="start" fill="#000"  stroke="#000" stroke-width="0.13">Age</text>
<text x="82.8" y="481.72" font-size="6.45" text-anchor="end" fill="#000"  stroke="#000" stroke-width="0.13">&lt;0.001</text>
<text x="145.3" y="481.72" font-size="6.45" text-anchor="end" fill="#000"  stroke="#000" stroke-width="0.13">1.017(1.008−1.027)</text>
<text x="28" y="514.62" font-size="6.45" text-anchor="start" fill="#000"  stroke="#000" stroke-width="0.13">Stage</text>
<text x="82.8" y="514.62" font-size="6.45" text-anchor="end" fill="#000"  stroke="#000" stroke-width="0.13">&lt;0.001</text>
<text x="145.3" y="514.62" font-size="6.45" text-anchor="end" fill="#000"  stroke="#000" stroke-width="0.13">1.386(1.171−1.641)</text>
<text x="28" y="547.32" font-size="6.45" text-anchor="start" fill="#000"  stroke="#000" stroke-width="0.13">riskScore</text>
<text x="82.8" y="547.32" font-size="6.45" text-anchor="end" fill="#000"  stroke="#000" stroke-width="0.13">&lt;0.001</text>
<text x="145.3" y="547.32" font-size="6.45" text-anchor="end" fill="#000"  stroke="#000" stroke-width="0.13">2.365(1.860−3.008)</text>
<line x1="206.13" y1="446.1" x2="206.13" y2="548.7" stroke="#222" stroke-width="1" stroke-dasharray="3.4,3.6"/>
<rect x="203.97" y="476.6" width="5.6" height="5.6" fill="#ee0000" stroke="none" stroke-width="1" />
<line x1="212.58" y1="512.3" x2="230.31" y2="512.3" stroke="#25258f" stroke-width="1.1" />
<line x1="212.58" y1="509.6" x2="212.58" y2="515" stroke="#25258f" stroke-width="1.1" />
<line x1="230.31" y1="509.6" x2="230.31" y2="515" stroke="#25258f" stroke-width="1.1" />
<rect x="217.89" y="509.5" width="5.6" height="5.6" fill="#ee0000" stroke="none" stroke-width="1" />
<line x1="238.58" y1="545" x2="281.89" y2="545" stroke="#25258f" stroke-width="1.1" />
<line x1="238.58" y1="542.3" x2="238.58" y2="547.7" stroke="#25258f" stroke-width="1.1" />
<line x1="281.89" y1="542.3" x2="281.89" y2="547.7" stroke="#25258f" stroke-width="1.1" />
<rect x="254.83" y="542.2" width="5.6" height="5.6" fill="#ee0000" stroke="none" stroke-width="1" />
<line x1="168.4" y1="548.7" x2="281.59" y2="548.7" stroke="#555" stroke-width="0.8" />
<line x1="168.4" y1="548.7" x2="168.4" y2="551.3" stroke="#555" stroke-width="0.8" />
<text x="168.4" y="560.3" font-size="7.4" text-anchor="middle" fill="#111"  stroke="#111" stroke-width="0.12">0.0</text>
<line x1="187.27" y1="548.7" x2="187.27" y2="551.3" stroke="#555" stroke-width="0.8" />
<text x="187.27" y="560.3" font-size="7.4" text-anchor="middle" fill="#111"  stroke="#111" stroke-width="0.12">0.5</text>
<line x1="206.13" y1="548.7" x2="206.13" y2="551.3" stroke="#555" stroke-width="0.8" />
<text x="206.13" y="560.3" font-size="7.4" text-anchor="middle" fill="#111"  stroke="#111" stroke-width="0.12">1.0</text>
<line x1="225" y1="548.7" x2="225" y2="551.3" stroke="#555" stroke-width="0.8" />
<text x="225" y="560.3" font-size="7.4" text-anchor="middle" fill="#111"  stroke="#111" stroke-width="0.12">1.5</text>
<line x1="243.86" y1="548.7" x2="243.86" y2="551.3" stroke="#555" stroke-width="0.8" />
<text x="243.86" y="560.3" font-size="7.4" text-anchor="middle" fill="#111"  stroke="#111" stroke-width="0.12">2.0</text>
<line x1="262.73" y1="548.7" x2="262.73" y2="551.3" stroke="#555" stroke-width="0.8" />
<text x="262.73" y="560.3" font-size="7.4" text-anchor="middle" fill="#111"  stroke="#111" stroke-width="0.12">2.5</text>
<line x1="281.59" y1="548.7" x2="281.59" y2="551.3" stroke="#555" stroke-width="0.8" />
<text x="281.59" y="560.3" font-size="7.4" text-anchor="middle" fill="#111"  stroke="#111" stroke-width="0.12">3.0</text>
<text x="224.8" y="574.6" font-size="7.55" text-anchor="middle" fill="#111"  stroke="#111" stroke-width="0.12">Hazard ratio</text>
<text x="382.9" y="455.2" font-size="6.25" text-anchor="middle" fill="#000"  stroke="#000" stroke-width="0.13">pvalue</text>
<text x="451.8" y="455.2" font-size="6.25" text-anchor="end" fill="#000"  stroke="#000" stroke-width="0.13">Hazard ratio</text>
<text x="339.3" y="502.25" font-size="6.25" text-anchor="start" fill="#000"  stroke="#000" stroke-width="0.13">Stage</text>
<text x="392.4" y="502.25" font-size="6.25" text-anchor="end" fill="#000"  stroke="#000" stroke-width="0.13">&lt;0.001</text>
<text x="451.8" y="502.25" font-size="6.25" text-anchor="end" fill="#000"  stroke="#000" stroke-width="0.13">1.862(1.542−2.249)</text>
<text x="339.3" y="548.75" font-size="6.25" text-anchor="start" fill="#000"  stroke="#000" stroke-width="0.13">riskScore</text>
<text x="392.4" y="548.75" font-size="6.25" text-anchor="end" fill="#000"  stroke="#000" stroke-width="0.13">&lt;0.001</text>
<text x="451.8" y="548.75" font-size="6.25" text-anchor="end" fill="#000"  stroke="#000" stroke-width="0.13">2.258(1.539−3.313)</text>
<line x1="506.07" y1="451.4" x2="506.07" y2="550.4" stroke="#222" stroke-width="1" stroke-dasharray="3.4,3.6"/>
<line x1="523.83" y1="500" x2="547" y2="500" stroke="#25258f" stroke-width="1.1" />
<line x1="523.83" y1="497.3" x2="523.83" y2="502.7" stroke="#25258f" stroke-width="1.1" />
<line x1="547" y1="497.3" x2="547" y2="502.7" stroke="#25258f" stroke-width="1.1" />
<rect x="531.62" y="497.3" width="5.4" height="5.4" fill="#ee0000" stroke="none" stroke-width="1" />
<line x1="523.73" y1="546.5" x2="581.87" y2="546.5" stroke="#25258f" stroke-width="1.1" />
<line x1="523.73" y1="543.8" x2="523.73" y2="549.2" stroke="#25258f" stroke-width="1.1" />
<line x1="581.87" y1="543.8" x2="581.87" y2="549.2" stroke="#25258f" stroke-width="1.1" />
<rect x="544.59" y="543.8" width="5.4" height="5.4" fill="#ee0000" stroke="none" stroke-width="1" />
<line x1="473.3" y1="550.4" x2="571.61" y2="550.4" stroke="#555" stroke-width="0.8" />
<line x1="473.3" y1="550.4" x2="473.3" y2="553.2" stroke="#555" stroke-width="0.8" />
<text x="473.3" y="561.9" font-size="7.35" text-anchor="middle" fill="#111"  stroke="#111" stroke-width="0.12">0.0</text>
<line x1="489.69" y1="550.4" x2="489.69" y2="553.2" stroke="#555" stroke-width="0.8" />
<text x="489.69" y="561.9" font-size="7.35" text-anchor="middle" fill="#111"  stroke="#111" stroke-width="0.12">0.5</text>
<line x1="506.07" y1="550.4" x2="506.07" y2="553.2" stroke="#555" stroke-width="0.8" />
<text x="506.07" y="561.9" font-size="7.35" text-anchor="middle" fill="#111"  stroke="#111" stroke-width="0.12">1.0</text>
<line x1="522.46" y1="550.4" x2="522.46" y2="553.2" stroke="#555" stroke-width="0.8" />
<text x="522.46" y="561.9" font-size="7.35" text-anchor="middle" fill="#111"  stroke="#111" stroke-width="0.12">1.5</text>
<line x1="538.84" y1="550.4" x2="538.84" y2="553.2" stroke="#555" stroke-width="0.8" />
<text x="538.84" y="561.9" font-size="7.35" text-anchor="middle" fill="#111"  stroke="#111" stroke-width="0.12">2.0</text>
<line x1="555.23" y1="550.4" x2="555.23" y2="553.2" stroke="#555" stroke-width="0.8" />
<text x="555.23" y="561.9" font-size="7.35" text-anchor="middle" fill="#111"  stroke="#111" stroke-width="0.12">2.5</text>
<line x1="571.61" y1="550.4" x2="571.61" y2="553.2" stroke="#555" stroke-width="0.8" />
<text x="571.61" y="561.9" font-size="7.35" text-anchor="middle" fill="#111"  stroke="#111" stroke-width="0.12">3.0</text>
<text x="527.8" y="575.3" font-size="7.3" text-anchor="middle" fill="#111"  stroke="#111" stroke-width="0.12">Hazard ratio</text>
<rect x="71.28" y="639.68" width="162.54" height="135.54" fill="none" stroke="#555" stroke-width="0.9" />
<line x1="77.3" y1="775.22" x2="77.3" y2="779.22" stroke="#555" stroke-width="0.8" />
<text x="77.3" y="791.02" font-size="7.4" text-anchor="middle" fill="#111"  stroke="#111" stroke-width="0.1">0.0</text>
<line x1="67.28" y1="770.2" x2="71.28" y2="770.2" stroke="#555" stroke-width="0.8" />
<text transform="translate(60.98,770.2) rotate(-90) scale(1)" font-size="7.4" text-anchor="middle" fill="#111" stroke="#111" stroke-width="0.1">0.0</text>
<line x1="107.4" y1="775.22" x2="107.4" y2="779.22" stroke="#555" stroke-width="0.8" />
<text x="107.4" y="791.02" font-size="7.4" text-anchor="middle" fill="#111"  stroke="#111" stroke-width="0.1">0.2</text>
<line x1="67.28" y1="745.1" x2="71.28" y2="745.1" stroke="#555" stroke-width="0.8" />
<text transform="translate(60.98,745.1) rotate(-90) scale(1)" font-size="7.4" text-anchor="middle" fill="#111" stroke="#111" stroke-width="0.1">0.2</text>
<line x1="137.5" y1="775.22" x2="137.5" y2="779.22" stroke="#555" stroke-width="0.8" />
<text x="137.5" y="791.02" font-size="7.4" text-anchor="middle" fill="#111"  stroke="#111" stroke-width="0.1">0.4</text>
<line x1="67.28" y1="720" x2="71.28" y2="720" stroke="#555" stroke-width="0.8" />
<text transform="translate(60.98,720) rotate(-90) scale(1)" font-size="7.4" text-anchor="middle" fill="#111" stroke="#111" stroke-width="0.1">0.4</text>
<line x1="167.6" y1="775.22" x2="167.6" y2="779.22" stroke="#555" stroke-width="0.8" />
<text x="167.6" y="791.02" font-size="7.4" text-anchor="middle" fill="#111"  stroke="#111" stroke-width="0.1">0.6</text>
<line x1="67.28" y1="694.9" x2="71.28" y2="694.9" stroke="#555" stroke-width="0.8" />
<text transform="translate(60.98,694.9) rotate(-90) scale(1)" font-size="7.4" text-anchor="middle" fill="#111" stroke="#111" stroke-width="0.1">0.6</text>
<line x1="197.7" y1="775.22" x2="197.7" y2="779.22" stroke="#555" stroke-width="0.8" />
<text x="197.7" y="791.02" font-size="7.4" text-anchor="middle" fill="#111"  stroke="#111" stroke-width="0.1">0.8</text>
<line x1="67.28" y1="669.8" x2="71.28" y2="669.8" stroke="#555" stroke-width="0.8" />
<text transform="translate(60.98,669.8) rotate(-90) scale(1)" font-size="7.4" text-anchor="middle" fill="#111" stroke="#111" stroke-width="0.1">0.8</text>
<line x1="227.8" y1="775.22" x2="227.8" y2="779.22" stroke="#555" stroke-width="0.8" />
<text x="227.8" y="791.02" font-size="7.4" text-anchor="middle" fill="#111"  stroke="#111" stroke-width="0.1">1.0</text>
<line x1="67.28" y1="644.7" x2="71.28" y2="644.7" stroke="#555" stroke-width="0.8" />
<text transform="translate(60.98,644.7) rotate(-90) scale(1)" font-size="7.4" text-anchor="middle" fill="#111" stroke="#111" stroke-width="0.1">1.0</text>
<text x="152.55" y="808.22" font-size="7" text-anchor="middle" fill="#111"  stroke="#111" stroke-width="0.1">1−Specificity</text>
<text transform="translate(43.8,707.45) rotate(-90) scale(1)" font-size="7" text-anchor="middle" fill="#111" stroke="#111" stroke-width="0.1">Sensitivity</text>
<line x1="71.28" y1="775.22" x2="233.82" y2="639.68" stroke="#222" stroke-width="1" stroke-dasharray="2.2,2"/>
<polyline points="77.4,770.3 77.4,770.3 77.4,765.9 79.6,765.9 79.6,755.6 82.5,755.6 82.5,749.7 85.4,749.7 85.4,745.3 88.4,745.3 88.4,740.1 109,740.1 109,735.7 111.2,735.7 111.2,731.3 114.1,731.3 114.1,726.2 116.3,726.2 116.3,717.4 120.7,717.4 120.7,713.7 122.9,713.7 122.9,710.7 125.9,710.7 125.9,707.1 129.6,707.1 129.6,701.9 150.1,701.9 150.1,693.8 152.4,693.8 152.4,687.2 159,687.2 159,679.1 159.4,679.1 159.4,677 161.4,677 161.4,672.2 166.3,672.2 166.3,663.3 174.1,663.3 174.1,658.4 194.7,658.4 194.7,654.5 202.5,654.5 202.5,652.5 210.4,652.5 210.4,649.6 214.3,649.6 214.3,644.7 227.8,644.7 227.8,644.7" fill="none" stroke="#22dd22" stroke-width="1.3" stroke-linejoin="round" />
<polyline points="77.4,770.3 79,770.3 79,766.5 80.3,766.5 80.3,763 83.2,763 83.2,755.6 84.7,755.6 84.7,748.2 85.4,748.2 85.4,745.3 89.1,745.3 89.1,745.3 92,745.3 92,741.6 92.8,741.6 92.8,736.5 95.7,736.5 95.7,732.1 98.7,732.1 98.7,732.1 100.1,732.1 100.1,726.2 103.8,726.2 103.8,722.5 107.5,722.5 107.5,722.5 109,722.5 109,717.4 112.6,717.4 112.6,717.4 114.9,717.4 114.9,710.7 118.5,710.7 118.5,708.5 122.9,708.5 122.9,707.1 124.4,707.1 124.4,704.9 128.1,704.9 128.1,704.9 129.6,704.9 129.6,700.4 133.2,700.4 133.2,699 139.1,699 139.1,697.5 143.5,697.5 143.5,695.3 145.7,695.3 145.7,691.6 150.1,691.6 150.1,688.7 154.6,688.7 154.6,685.7 158.2,685.7 158.2,679.1 162,679.1 162,676.5 169.2,676.5 169.2,671.2 174,671.2 174,669 179,669 179,667.3 184,667.3 184,664.5 188.8,664.5 188.8,662.4 194,662.4 194,660.2 198.6,660.2 198.6,658.4 202,658.4 202,655 204.5,655 204.5,652.5 209,652.5 209,650.5 214.3,650.5 214.3,648.6 220,648.6 220,646.5 227.8,646.5 227.8,644.7" fill="none" stroke="#2020ee" stroke-width="1.3" stroke-linejoin="round" />
<polyline points="77.4,770.3 78.5,770.3 78.5,768.5 80.3,768.5 80.3,764.4 81.8,764.4 81.8,760 84,760 84,756.3 85.4,756.3 85.4,749 89.1,749 89.1,748.2 91.3,748.2 91.3,745.3 92.8,745.3 92.8,740.1 95.7,740.1 95.7,736.5 98.7,736.5 98.7,736.5 100.1,736.5 100.1,732.1 104.6,732.1 104.6,729.1 109,729.1 109,726.9 110.4,726.9 110.4,722.5 114.1,722.5 114.1,718.8 117.1,718.8 117.1,715.9 120.7,715.9 120.7,714.4 124.4,714.4 124.4,708.5 128.1,708.5 128.1,704.9 129.6,704.9 129.6,701.2 133.2,701.2 133.2,698.2 138.4,698.2 138.4,696 139.1,696 139.1,690.1 143.5,690.1 143.5,687.9 149.4,687.9 149.4,685 153.8,685 153.8,679.1 159.4,679.1 159.4,676.1 164,676.1 164,673 169.2,673 169.2,670.2 174,670.2 174,667.5 179,667.5 179,665.3 184,665.3 184,663.2 188.8,663.2 188.8,661.4 194,661.4 194,659.5 198.6,659.5 198.6,657.5 201,657.5 201,654 204.5,654 204.5,651.6 209,651.6 209,650 214.3,650 214.3,648.6 220,648.6 220,646.8 227.8,646.8 227.8,644.7" fill="none" stroke="#ee2a2a" stroke-width="1.3" stroke-linejoin="round" />
<rect x="132" y="743" width="98" height="29" fill="none"/>
<line x1="139.9" y1="749.4" x2="153.6" y2="749.4" stroke="#33dd33" stroke-width="1.3" />
<text x="159.4" y="751.96" font-size="7.1" text-anchor="start" fill="#000"  stroke="#000" stroke-width="0.1">AUC at 1 years: 0.625</text>
<line x1="139.9" y1="758.2" x2="153.6" y2="758.2" stroke="#2222ee" stroke-width="1.3" />
<text x="159.4" y="760.76" font-size="7.1" text-anchor="start" fill="#000"  stroke="#000" stroke-width="0.1">AUC at 3 years: 0.638</text>
<line x1="139.9" y1="767" x2="153.6" y2="767" stroke="#ee3333" stroke-width="1.3" />
<text x="159.4" y="769.56" font-size="7.1" text-anchor="start" fill="#000"  stroke="#000" stroke-width="0.1">AUC at 5 years: 0.633</text>
<rect x="364.31" y="639.96" width="161.68" height="136.08" fill="none" stroke="#555" stroke-width="0.9" />
<line x1="370.3" y1="776.04" x2="370.3" y2="780.04" stroke="#555" stroke-width="0.8" />
<text x="370.3" y="791.24" font-size="7.4" text-anchor="middle" fill="#111"  stroke="#111" stroke-width="0.1">0.0</text>
<line x1="360.31" y1="771" x2="364.31" y2="771" stroke="#555" stroke-width="0.8" />
<text transform="translate(354.01,771) rotate(-90) scale(1)" font-size="7.4" text-anchor="middle" fill="#111" stroke="#111" stroke-width="0.1">0.0</text>
<line x1="400.24" y1="776.04" x2="400.24" y2="780.04" stroke="#555" stroke-width="0.8" />
<text x="400.24" y="791.24" font-size="7.4" text-anchor="middle" fill="#111"  stroke="#111" stroke-width="0.1">0.2</text>
<line x1="360.31" y1="745.8" x2="364.31" y2="745.8" stroke="#555" stroke-width="0.8" />
<text transform="translate(354.01,745.8) rotate(-90) scale(1)" font-size="7.4" text-anchor="middle" fill="#111" stroke="#111" stroke-width="0.1">0.2</text>
<line x1="430.18" y1="776.04" x2="430.18" y2="780.04" stroke="#555" stroke-width="0.8" />
<text x="430.18" y="791.24" font-size="7.4" text-anchor="middle" fill="#111"  stroke="#111" stroke-width="0.1">0.4</text>
<line x1="360.31" y1="720.6" x2="364.31" y2="720.6" stroke="#555" stroke-width="0.8" />
<text transform="translate(354.01,720.6) rotate(-90) scale(1)" font-size="7.4" text-anchor="middle" fill="#111" stroke="#111" stroke-width="0.1">0.4</text>
<line x1="460.12" y1="776.04" x2="460.12" y2="780.04" stroke="#555" stroke-width="0.8" />
<text x="460.12" y="791.24" font-size="7.4" text-anchor="middle" fill="#111"  stroke="#111" stroke-width="0.1">0.6</text>
<line x1="360.31" y1="695.4" x2="364.31" y2="695.4" stroke="#555" stroke-width="0.8" />
<text transform="translate(354.01,695.4) rotate(-90) scale(1)" font-size="7.4" text-anchor="middle" fill="#111" stroke="#111" stroke-width="0.1">0.6</text>
<line x1="490.06" y1="776.04" x2="490.06" y2="780.04" stroke="#555" stroke-width="0.8" />
<text x="490.06" y="791.24" font-size="7.4" text-anchor="middle" fill="#111"  stroke="#111" stroke-width="0.1">0.8</text>
<line x1="360.31" y1="670.2" x2="364.31" y2="670.2" stroke="#555" stroke-width="0.8" />
<text transform="translate(354.01,670.2) rotate(-90) scale(1)" font-size="7.4" text-anchor="middle" fill="#111" stroke="#111" stroke-width="0.1">0.8</text>
<line x1="520" y1="776.04" x2="520" y2="780.04" stroke="#555" stroke-width="0.8" />
<text x="520" y="791.24" font-size="7.4" text-anchor="middle" fill="#111"  stroke="#111" stroke-width="0.1">1.0</text>
<line x1="360.31" y1="645" x2="364.31" y2="645" stroke="#555" stroke-width="0.8" />
<text transform="translate(354.01,645) rotate(-90) scale(1)" font-size="7.4" text-anchor="middle" fill="#111" stroke="#111" stroke-width="0.1">1.0</text>
<text x="445.15" y="808.64" font-size="7" text-anchor="middle" fill="#111"  stroke="#111" stroke-width="0.1">1−Specificity</text>
<text transform="translate(336.6,708) rotate(-90) scale(1)" font-size="7" text-anchor="middle" fill="#111" stroke="#111" stroke-width="0.1">Sensitivity</text>
<line x1="364.31" y1="776.04" x2="525.99" y2="639.96" stroke="#222" stroke-width="1" stroke-dasharray="2.2,2"/>
<polyline points="370.2,770.9 371.4,770.9 371.4,771.6 375,771.6 375,771.6 378,771.6 378,769.4 378.7,769.4 378.7,765 380.2,765 380.2,759.1 382.4,759.1 382.4,748.8 385.3,748.8 385.3,745.9 389.7,745.9 389.7,741.5 398.6,741.5 398.6,741.5 400.8,741.5 400.8,734.1 404.4,734.1 404.4,732.6 408.1,732.6 408.1,731.2 412.5,731.2 412.5,730.4 415.5,730.4 415.5,724.6 418.4,724.6 418.4,723.8 422.8,723.8 422.8,723.1 425,723.1 425,720.9 427.2,720.9 427.2,717.9 428.7,717.9 428.7,712 430.9,712 430.9,709.1 433.9,709.1 433.9,705.4 437.5,705.4 437.5,701.8 440,701.8 440,700.3 444.4,700.3 444.4,697.6 447.4,697.6 447.4,694.7 448.8,694.7 448.8,688.8 451,688.8 451,685.1 454.7,685.1 454.7,682.2 456.9,682.2 456.9,678.5 459.9,678.5 459.9,676.3 463.5,676.3 463.5,672.6 466.5,672.6 466.5,668.2 469.4,668.2 469.4,664.6 471.6,664.6 471.6,661.6 474.6,661.6 474.6,657.2 479,657.2 479,654.3 485.6,654.3 485.6,652.8 494.4,652.8 494.4,650.6 495.9,650.6 495.9,648.8 503.2,648.8 503.2,648.8 507.6,648.8 507.6,644.9 520.1,644.9 520.1,644.9" fill="none" stroke="#22dd22" stroke-width="1.3" stroke-linejoin="round" />
<polyline points="370.2,770.9 373.6,770.9 373.6,766.5 375,766.5 375,757.6 377.2,757.6 377.2,754.7 379.4,754.7 379.4,751.8 380.2,751.8 380.2,745.9 383.1,745.9 383.1,743.7 388.3,743.7 388.3,741.5 391.2,741.5 391.2,737.1 393.4,737.1 393.4,732.6 397.1,732.6 397.1,731.2 399.3,731.2 399.3,730.4 402.2,730.4 402.2,726.8 403.7,726.8 403.7,722.4 405.9,722.4 405.9,720.1 415.5,720.1 415.5,718.7 418.4,718.7 418.4,717.9 421.4,717.9 421.4,712 425.8,712 425.8,709.9 430.2,709.9 430.2,707.6 433.1,707.6 433.1,703.2 436.1,703.2 436.1,699.6 438.3,699.6 438.3,695.9 440.5,695.9 440.5,690 441.5,690 441.5,685.1 448.1,685.1 448.1,685.1 450.3,685.1 450.3,681.5 454.7,681.5 454.7,680.7 457.6,680.7 457.6,677.1 460.6,677.1 460.6,674.1 464.3,674.1 464.3,669 466.5,669 466.5,666.8 468.7,666.8 468.7,662.4 471.6,662.4 471.6,661.6 473.1,661.6 473.1,658.7 477.5,658.7 477.5,655.7 481.2,655.7 481.2,653.5 490,653.5 490,652.1 492.9,652.1 492.9,650.6 498.8,650.6 498.8,649.9 503.2,649.9 503.2,647.6 506.9,647.6 506.9,646.9 509.1,646.9 509.1,645.4 517.9,645.4 517.9,644.9 520.1,644.9 520.1,644.9" fill="none" stroke="#2020ee" stroke-width="1.3" stroke-linejoin="round" />
<polyline points="370.2,770.9 371.4,770.9 371.4,759.1 373.6,759.1 373.6,754.7 375,754.7 375,745.9 380.2,745.9 380.2,745.9 384.6,745.9 384.6,744.4 387.5,744.4 387.5,741.5 387.5,741.5 387.5,737.8 391.9,737.8 391.9,734.1 395.6,734.1 395.6,732.6 399.3,732.6 399.3,729.7 400.8,729.7 400.8,725.3 401.5,725.3 401.5,722.4 405.2,722.4 405.2,720.1 418.4,720.1 418.4,719.4 419.9,719.4 419.9,716.5 421.4,716.5 421.4,710.6 425.8,710.6 425.8,708.4 427.2,708.4 427.2,704.7 430.2,704.7 430.2,700.3 434.6,700.3 434.6,697.4 436.1,697.4 436.1,694.4 439,694.4 439,690.7 441.2,690.7 441.2,687.1 448.1,687.1 448.1,686.6 451,686.6 451,683.7 456.9,683.7 456.9,682.2 459.1,682.2 459.1,679.3 463.5,679.3 463.5,674.9 467.2,674.9 467.2,670.4 470.9,670.4 470.9,667.5 474.6,667.5 474.6,663.1 478.2,663.1 478.2,661.6 482.6,661.6 482.6,658.7 487.1,658.7 487.1,657.2 491.5,657.2 491.5,653.5 495.9,653.5 495.9,652.1 500.3,652.1 500.3,651.3 506.2,651.3 506.2,649.9 509.9,649.9 509.9,647.6 520.1,647.6 520.1,647.4 520.1,647.4 520.1,645" fill="none" stroke="#ee2a2a" stroke-width="1.3" stroke-linejoin="round" />
<line x1="432.9" y1="750.2" x2="447" y2="750.2" stroke="#33dd33" stroke-width="1.3" />
<text x="452.9" y="752.76" font-size="7.1" text-anchor="start" fill="#000"  stroke="#000" stroke-width="0.1">AUC at 1 years: 0.596</text>
<line x1="432.9" y1="758.9" x2="447" y2="758.9" stroke="#2222ee" stroke-width="1.3" />
<text x="452.9" y="761.46" font-size="7.1" text-anchor="start" fill="#000"  stroke="#000" stroke-width="0.1">AUC at 3 years: 0.628</text>
<line x1="432.9" y1="767.6" x2="447" y2="767.6" stroke="#ee3333" stroke-width="1.3" />
<text x="452.9" y="770.16" font-size="7.1" text-anchor="start" fill="#000"  stroke="#000" stroke-width="0.1">AUC at 5 years: 0.620</text>
<rect x="75.49" y="847.96" width="154.22" height="144.29" fill="none" stroke="#555" stroke-width="0.9" />
<line x1="81.2" y1="992.24" x2="81.2" y2="996.24" stroke="#555" stroke-width="0.8" />
<text x="81.2" y="1005.64" font-size="7.4" text-anchor="middle" fill="#111"  stroke="#111" stroke-width="0.1">0.0</text>
<line x1="71.49" y1="986.9" x2="75.49" y2="986.9" stroke="#555" stroke-width="0.8" />
<text transform="translate(66.69,986.9) rotate(-90) scale(1)" font-size="7.4" text-anchor="middle" fill="#111" stroke="#111" stroke-width="0.1">0.0</text>
<line x1="109.76" y1="992.24" x2="109.76" y2="996.24" stroke="#555" stroke-width="0.8" />
<text x="109.76" y="1005.64" font-size="7.4" text-anchor="middle" fill="#111"  stroke="#111" stroke-width="0.1">0.2</text>
<line x1="71.49" y1="960.18" x2="75.49" y2="960.18" stroke="#555" stroke-width="0.8" />
<text transform="translate(66.69,960.18) rotate(-90) scale(1)" font-size="7.4" text-anchor="middle" fill="#111" stroke="#111" stroke-width="0.1">0.2</text>
<line x1="138.32" y1="992.24" x2="138.32" y2="996.24" stroke="#555" stroke-width="0.8" />
<text x="138.32" y="1005.64" font-size="7.4" text-anchor="middle" fill="#111"  stroke="#111" stroke-width="0.1">0.4</text>
<line x1="71.49" y1="933.46" x2="75.49" y2="933.46" stroke="#555" stroke-width="0.8" />
<text transform="translate(66.69,933.46) rotate(-90) scale(1)" font-size="7.4" text-anchor="middle" fill="#111" stroke="#111" stroke-width="0.1">0.4</text>
<line x1="166.88" y1="992.24" x2="166.88" y2="996.24" stroke="#555" stroke-width="0.8" />
<text x="166.88" y="1005.64" font-size="7.4" text-anchor="middle" fill="#111"  stroke="#111" stroke-width="0.1">0.6</text>
<line x1="71.49" y1="906.74" x2="75.49" y2="906.74" stroke="#555" stroke-width="0.8" />
<text transform="translate(66.69,906.74) rotate(-90) scale(1)" font-size="7.4" text-anchor="middle" fill="#111" stroke="#111" stroke-width="0.1">0.6</text>
<line x1="195.44" y1="992.24" x2="195.44" y2="996.24" stroke="#555" stroke-width="0.8" />
<text x="195.44" y="1005.64" font-size="7.4" text-anchor="middle" fill="#111"  stroke="#111" stroke-width="0.1">0.8</text>
<line x1="71.49" y1="880.02" x2="75.49" y2="880.02" stroke="#555" stroke-width="0.8" />
<text transform="translate(66.69,880.02) rotate(-90) scale(1)" font-size="7.4" text-anchor="middle" fill="#111" stroke="#111" stroke-width="0.1">0.8</text>
<line x1="224" y1="992.24" x2="224" y2="996.24" stroke="#555" stroke-width="0.8" />
<text x="224" y="1005.64" font-size="7.4" text-anchor="middle" fill="#111"  stroke="#111" stroke-width="0.1">1.0</text>
<line x1="71.49" y1="853.3" x2="75.49" y2="853.3" stroke="#555" stroke-width="0.8" />
<text transform="translate(66.69,853.3) rotate(-90) scale(1)" font-size="7.4" text-anchor="middle" fill="#111" stroke="#111" stroke-width="0.1">1.0</text>
<text x="152.6" y="1019.14" font-size="7" text-anchor="middle" fill="#111"  stroke="#111" stroke-width="0.1">False positive rate</text>
<text transform="translate(52,920.1) rotate(-90) scale(1)" font-size="7" text-anchor="middle" fill="#111" stroke="#111" stroke-width="0.1">True positive rate</text>
<line x1="75.49" y1="992.24" x2="229.71" y2="847.96" stroke="#999" stroke-width="1.1" />
<polyline points="81.2,986.9 216.86,857.31 224,853.3" fill="none" stroke="#4433cc" stroke-width="1.2" stroke-linejoin="round" />
<polyline points="81.2,986.9 211.15,859.31 224,853.3" fill="none" stroke="#66dd44" stroke-width="1.2" stroke-linejoin="round" />
<polyline points="81.2,986.9 81.77,984.23 82.06,964.19 82.91,965.52 84.06,970.87 85.48,966.86 88.34,960.18 92.62,953.5 98.48,949.36 109.76,949.63 131.18,950.29 148.46,950.56 151.17,939.07 154.03,930.79 157.31,922.77 160.31,915.82 162.45,904.74 165.45,894.72 166.59,893.65 174.88,893.65 177.73,885.36 181.87,867.19 205.44,867.19 220.72,860.25 223.29,860.25 223.43,855.97 224,853.3" fill="none" stroke="#f5c000" stroke-width="1.1" stroke-linejoin="round" />
<polyline points="81.2,986.9 140.89,891.24 190.87,853.3 224,853.3" fill="none" stroke="#33ddaa" stroke-width="1.1" stroke-linejoin="round" />
<polyline points="81.2,986.9 131.61,883.36 195.44,858.91 224,853.3" fill="none" stroke="#3399ee" stroke-width="1.1" stroke-linejoin="round" />
<polyline points="81.2,986.9 96.34,944.15 112.04,919.3 139.46,891.24 224,853.3" fill="none" stroke="#ee22dd" stroke-width="1.1" stroke-linejoin="round" />
<polyline points="81.2,986.9 81.2,984 82.5,983.5 82.9,978 85.3,977.5 85.3,972.2 87,971.5 87.2,967 89,966 89,962.6 91.2,961.5 91.2,956.8 111,954.6 111.8,947.9 113.2,947.9 113.2,945 116.2,944 116.2,938.4 118.4,938 118.4,933.2 120.6,932.5 120.6,928.8 123.5,928.5 123.5,925.1 125.7,924.5 125.7,921.5 127.9,921 127.9,917.8 130.1,917.5 130.1,913.4 151.5,913.4 151.7,903.3 153.5,903.3 153.5,897.8 159,897.8 159.7,890.8 161.1,886.7 161.1,882.5 165.3,881.8 166,877.6 167.4,874.9 167.4,872.1 173.6,872.1 174.3,867.2 182,866.5 193.8,866.5 193.8,862.4 208.3,862.4 208.3,858.2 211.1,858.2 211.5,853.3 224,853.3" fill="none" stroke="#ee3333" stroke-width="1.2" stroke-linejoin="round" />
<line x1="149.8" y1="942.7" x2="160.8" y2="942.7" stroke="#ee3333" stroke-width="1.3" />
<text x="165.6" y="944.86" font-size="6" text-anchor="start" fill="#000"  stroke="#000" stroke-width="0.1">risk score (AUC=0.628)</text>
<line x1="149.8" y1="949.8" x2="160.8" y2="949.8" stroke="#f5c000" stroke-width="1.3" />
<text x="165.6" y="951.96" font-size="6" text-anchor="start" fill="#000"  stroke="#000" stroke-width="0.1">Age (AUC=0.526)</text>
<line x1="149.8" y1="956.9" x2="160.8" y2="956.9" stroke="#66dd44" stroke-width="1.3" />
<text x="165.6" y="959.06" font-size="6" text-anchor="start" fill="#000"  stroke="#000" stroke-width="0.1">Gender (AUC=0.532)</text>
<line x1="149.8" y1="964" x2="160.8" y2="964" stroke="#33ddaa" stroke-width="1.3" />
<text x="165.6" y="966.16" font-size="6" text-anchor="start" fill="#000"  stroke="#000" stroke-width="0.1">Stage (AUC=0.680)</text>
<line x1="149.8" y1="971.1" x2="160.8" y2="971.1" stroke="#3399ee" stroke-width="1.3" />
<text x="165.6" y="973.26" font-size="6" text-anchor="start" fill="#000"  stroke="#000" stroke-width="0.1">T (AUC=0.714)</text>
<line x1="149.8" y1="978.2" x2="160.8" y2="978.2" stroke="#4433cc" stroke-width="1.3" />
<text x="165.6" y="980.36" font-size="6" text-anchor="start" fill="#000"  stroke="#000" stroke-width="0.1">M (AUC=0.510)</text>
<line x1="149.8" y1="985.3" x2="160.8" y2="985.3" stroke="#ee22dd" stroke-width="1.3" />
<text x="165.6" y="987.46" font-size="6" text-anchor="start" fill="#000"  stroke="#000" stroke-width="0.1">N (AUC=0.687)</text>
<rect x="77.38" y="1058.26" width="154.55" height="144.18" fill="none" stroke="#555" stroke-width="0.9" />
<line x1="83.1" y1="1202.44" x2="83.1" y2="1206.44" stroke="#555" stroke-width="0.8" />
<text x="83.1" y="1215.24" font-size="7.4" text-anchor="middle" fill="#111"  stroke="#111" stroke-width="0.1">0.0</text>
<line x1="73.38" y1="1197.1" x2="77.38" y2="1197.1" stroke="#555" stroke-width="0.8" />
<text transform="translate(68.58,1197.1) rotate(-90) scale(1)" font-size="7.4" text-anchor="middle" fill="#111" stroke="#111" stroke-width="0.1">0.0</text>
<line x1="111.72" y1="1202.44" x2="111.72" y2="1206.44" stroke="#555" stroke-width="0.8" />
<text x="111.72" y="1215.24" font-size="7.4" text-anchor="middle" fill="#111"  stroke="#111" stroke-width="0.1">0.2</text>
<line x1="73.38" y1="1170.4" x2="77.38" y2="1170.4" stroke="#555" stroke-width="0.8" />
<text transform="translate(68.58,1170.4) rotate(-90) scale(1)" font-size="7.4" text-anchor="middle" fill="#111" stroke="#111" stroke-width="0.1">0.2</text>
<line x1="140.34" y1="1202.44" x2="140.34" y2="1206.44" stroke="#555" stroke-width="0.8" />
<text x="140.34" y="1215.24" font-size="7.4" text-anchor="middle" fill="#111"  stroke="#111" stroke-width="0.1">0.4</text>
<line x1="73.38" y1="1143.7" x2="77.38" y2="1143.7" stroke="#555" stroke-width="0.8" />
<text transform="translate(68.58,1143.7) rotate(-90) scale(1)" font-size="7.4" text-anchor="middle" fill="#111" stroke="#111" stroke-width="0.1">0.4</text>
<line x1="168.96" y1="1202.44" x2="168.96" y2="1206.44" stroke="#555" stroke-width="0.8" />
<text x="168.96" y="1215.24" font-size="7.4" text-anchor="middle" fill="#111"  stroke="#111" stroke-width="0.1">0.6</text>
<line x1="73.38" y1="1117" x2="77.38" y2="1117" stroke="#555" stroke-width="0.8" />
<text transform="translate(68.58,1117) rotate(-90) scale(1)" font-size="7.4" text-anchor="middle" fill="#111" stroke="#111" stroke-width="0.1">0.6</text>
<line x1="197.58" y1="1202.44" x2="197.58" y2="1206.44" stroke="#555" stroke-width="0.8" />
<text x="197.58" y="1215.24" font-size="7.4" text-anchor="middle" fill="#111"  stroke="#111" stroke-width="0.1">0.8</text>
<line x1="73.38" y1="1090.3" x2="77.38" y2="1090.3" stroke="#555" stroke-width="0.8" />
<text transform="translate(68.58,1090.3) rotate(-90) scale(1)" font-size="7.4" text-anchor="middle" fill="#111" stroke="#111" stroke-width="0.1">0.8</text>
<line x1="226.2" y1="1202.44" x2="226.2" y2="1206.44" stroke="#555" stroke-width="0.8" />
<text x="226.2" y="1215.24" font-size="7.4" text-anchor="middle" fill="#111"  stroke="#111" stroke-width="0.1">1.0</text>
<line x1="73.38" y1="1063.6" x2="77.38" y2="1063.6" stroke="#555" stroke-width="0.8" />
<text transform="translate(68.58,1063.6) rotate(-90) scale(1)" font-size="7.4" text-anchor="middle" fill="#111" stroke="#111" stroke-width="0.1">1.0</text>
<text x="154.65" y="1229.24" font-size="7" text-anchor="middle" fill="#111"  stroke="#111" stroke-width="0.1">False positive rate</text>
<text transform="translate(54,1130.35) rotate(-90) scale(1)" font-size="7" text-anchor="middle" fill="#111" stroke="#111" stroke-width="0.1">True positive rate</text>
<line x1="77.38" y1="1202.44" x2="231.92" y2="1058.26" stroke="#999" stroke-width="1.1" />
<polyline points="83.1,1197.1 219.04,1067.61 226.2,1063.6" fill="none" stroke="#4433cc" stroke-width="1.2" stroke-linejoin="round" />
<polyline points="83.1,1197.1 213.32,1069.61 226.2,1063.6" fill="none" stroke="#66dd44" stroke-width="1.2" stroke-linejoin="round" />
<polyline points="83.1,1197.1 83.67,1194.43 83.96,1174.4 84.82,1175.74 85.96,1181.08 87.39,1177.07 90.25,1170.4 94.55,1163.72 100.42,1159.59 111.72,1159.85 133.19,1160.52 150.5,1160.79 153.22,1149.31 156.08,1141.03 159.37,1133.02 162.38,1126.08 164.52,1115 167.53,1104.98 168.67,1103.92 176.97,1103.92 179.84,1095.64 183.99,1077.48 207.6,1077.48 222.91,1070.54 225.48,1070.54 225.63,1066.27 226.2,1063.6" fill="none" stroke="#f5c000" stroke-width="1.1" stroke-linejoin="round" />
<polyline points="83.1,1197.1 142.92,1101.51 193,1063.6 226.2,1063.6" fill="none" stroke="#33ddaa" stroke-width="1.1" stroke-linejoin="round" />
<polyline points="83.1,1197.1 133.61,1093.64 197.58,1069.21 226.2,1063.6" fill="none" stroke="#3399ee" stroke-width="1.1" stroke-linejoin="round" />
<polyline points="83.1,1197.1 98.27,1154.38 114.01,1129.55 141.48,1101.51 226.2,1063.6" fill="none" stroke="#ee22dd" stroke-width="1.1" stroke-linejoin="round" />
<polyline points="83.1,1197.1 83.1,1189.77 84.67,1189.77 85.2,1180.61 86.51,1180.09 86.51,1170.14 88.34,1170.14 89.13,1163.59 91.75,1163.59 92.54,1157.05 94.37,1156.53 95.16,1149.72 96.99,1148.67 96.99,1142.65 98.83,1142.65 99.61,1136.11 104.85,1136.11 105.64,1129.56 107.47,1129.56 108.26,1121.71 108.78,1121.71 108.78,1109.93 119.27,1109.93 119.27,1103.39 123.2,1101.56 125.82,1098.15 127.13,1091.61 129.75,1088.99 133.68,1088.21 148.1,1087.68 148.62,1081.14 158.58,1080.61 159.89,1073.81 176.93,1073.81 178.24,1068.57 191.34,1068.57 192.65,1063.6 200.52,1063.6 226.2,1063.6" fill="none" stroke="#ee3333" stroke-width="1.2" stroke-linejoin="round" />
<line x1="151.8" y1="1152.7" x2="162.9" y2="1152.7" stroke="#ee3333" stroke-width="1.3" />
<text x="167.6" y="1154.86" font-size="6" text-anchor="start" fill="#000"  stroke="#000" stroke-width="0.1">risk score (AUC=0.795)</text>
<line x1="151.8" y1="1159.9" x2="162.9" y2="1159.9" stroke="#f5c000" stroke-width="1.3" />
<text x="167.6" y="1162.06" font-size="6" text-anchor="start" fill="#000"  stroke="#000" stroke-width="0.1">Age (AUC=0.526)</text>
<line x1="151.8" y1="1167" x2="162.9" y2="1167" stroke="#66dd44" stroke-width="1.3" />
<text x="167.6" y="1169.16" font-size="6" text-anchor="start" fill="#000"  stroke="#000" stroke-width="0.1">Gender (AUC=0.532)</text>
<line x1="151.8" y1="1174.2" x2="162.9" y2="1174.2" stroke="#33ddaa" stroke-width="1.3" />
<text x="167.6" y="1176.36" font-size="6" text-anchor="start" fill="#000"  stroke="#000" stroke-width="0.1">Stage (AUC=0.680)</text>
<line x1="151.8" y1="1181.3" x2="162.9" y2="1181.3" stroke="#3399ee" stroke-width="1.3" />
<text x="167.6" y="1183.46" font-size="6" text-anchor="start" fill="#000"  stroke="#000" stroke-width="0.1">T (AUC=0.714)</text>
<line x1="151.8" y1="1188.4" x2="162.9" y2="1188.4" stroke="#4433cc" stroke-width="1.3" />
<text x="167.6" y="1190.56" font-size="6" text-anchor="start" fill="#000"  stroke="#000" stroke-width="0.1">M (AUC=0.510)</text>
<line x1="151.8" y1="1195.5" x2="162.9" y2="1195.5" stroke="#ee22dd" stroke-width="1.3" />
<text x="167.6" y="1197.66" font-size="6" text-anchor="start" fill="#000"  stroke="#000" stroke-width="0.1">N (AUC=0.687)</text>
<rect x="366.46" y="844.06" width="160.38" height="149.69" fill="none" stroke="#555" stroke-width="0.9" />
<line x1="372.4" y1="993.74" x2="372.4" y2="997.74" stroke="#555" stroke-width="0.8" />
<text x="372.4" y="1007.14" font-size="7.4" text-anchor="middle" fill="#111"  stroke="#111" stroke-width="0.1">0.0</text>
<line x1="362.46" y1="988.2" x2="366.46" y2="988.2" stroke="#555" stroke-width="0.8" />
<text transform="translate(357.66,988.2) rotate(-90) scale(1)" font-size="7.4" text-anchor="middle" fill="#111" stroke="#111" stroke-width="0.1">0.0</text>
<line x1="402.1" y1="993.74" x2="402.1" y2="997.74" stroke="#555" stroke-width="0.8" />
<text x="402.1" y="1007.14" font-size="7.4" text-anchor="middle" fill="#111"  stroke="#111" stroke-width="0.1">0.2</text>
<line x1="362.46" y1="960.48" x2="366.46" y2="960.48" stroke="#555" stroke-width="0.8" />
<text transform="translate(357.66,960.48) rotate(-90) scale(1)" font-size="7.4" text-anchor="middle" fill="#111" stroke="#111" stroke-width="0.1">0.2</text>
<line x1="431.8" y1="993.74" x2="431.8" y2="997.74" stroke="#555" stroke-width="0.8" />
<text x="431.8" y="1007.14" font-size="7.4" text-anchor="middle" fill="#111"  stroke="#111" stroke-width="0.1">0.4</text>
<line x1="362.46" y1="932.76" x2="366.46" y2="932.76" stroke="#555" stroke-width="0.8" />
<text transform="translate(357.66,932.76) rotate(-90) scale(1)" font-size="7.4" text-anchor="middle" fill="#111" stroke="#111" stroke-width="0.1">0.4</text>
<line x1="461.5" y1="993.74" x2="461.5" y2="997.74" stroke="#555" stroke-width="0.8" />
<text x="461.5" y="1007.14" font-size="7.4" text-anchor="middle" fill="#111"  stroke="#111" stroke-width="0.1">0.6</text>
<line x1="362.46" y1="905.04" x2="366.46" y2="905.04" stroke="#555" stroke-width="0.8" />
<text transform="translate(357.66,905.04) rotate(-90) scale(1)" font-size="7.4" text-anchor="middle" fill="#111" stroke="#111" stroke-width="0.1">0.6</text>
<line x1="491.2" y1="993.74" x2="491.2" y2="997.74" stroke="#555" stroke-width="0.8" />
<text x="491.2" y="1007.14" font-size="7.4" text-anchor="middle" fill="#111"  stroke="#111" stroke-width="0.1">0.8</text>
<line x1="362.46" y1="877.32" x2="366.46" y2="877.32" stroke="#555" stroke-width="0.8" />
<text transform="translate(357.66,877.32) rotate(-90) scale(1)" font-size="7.4" text-anchor="middle" fill="#111" stroke="#111" stroke-width="0.1">0.8</text>
<line x1="520.9" y1="993.74" x2="520.9" y2="997.74" stroke="#555" stroke-width="0.8" />
<text x="520.9" y="1007.14" font-size="7.4" text-anchor="middle" fill="#111"  stroke="#111" stroke-width="0.1">1.0</text>
<line x1="362.46" y1="849.6" x2="366.46" y2="849.6" stroke="#555" stroke-width="0.8" />
<text transform="translate(357.66,849.6) rotate(-90) scale(1)" font-size="7.4" text-anchor="middle" fill="#111" stroke="#111" stroke-width="0.1">1.0</text>
<text x="446.65" y="1021.04" font-size="7" text-anchor="middle" fill="#111"  stroke="#111" stroke-width="0.1">False positive rate</text>
<text transform="translate(342.2,918.9) rotate(-90) scale(1)" font-size="7" text-anchor="middle" fill="#111" stroke="#111" stroke-width="0.1">True positive rate</text>
<line x1="366.46" y1="993.74" x2="526.84" y2="844.06" stroke="#888" stroke-width="1.1" />
<polyline points="372.4,988.2 461.5,908.37 520.9,849.6" fill="none" stroke="#88e030" stroke-width="1.2" stroke-linejoin="round" />
<polyline points="372.4,988.2 374.33,984.87 376.26,982.93 381.16,980.99 394.97,981.41 399.87,979.05 401.8,974.06 406.7,969.21 409.67,964.36 411.6,957.57 415.46,953.55 420.37,945.65 426.31,941.77 432.25,938.86 439.97,934.84 446.95,933.45 447.84,924.44 453.18,920.84 457.64,914.6 459.57,908.37 462.24,901.99 466.7,893.95 473.83,888.55 477.54,886.74 481.1,881.34 486.45,880.37 490.9,872.47 495.51,866.09 499.96,859.86 504.42,856.25 509.91,852.65 520.9,849.6" fill="none" stroke="#22e8e8" stroke-width="1.2" stroke-linejoin="round" />
<polyline points="372.4,988.2 383.54,929.99 472.04,864.29 493.72,853.07 520.9,849.6" fill="none" stroke="#9030f0" stroke-width="1.2" stroke-linejoin="round" />
<polyline points="372.4,988.2 376.26,988.2 376.26,988.2 377.3,988.2 377.3,985.43 378.34,985.43 378.34,981.27 379.23,981.27 379.23,977.94 381.31,977.94 381.31,975.73 383.09,975.73 383.09,975.03 384.13,975.03 384.13,964.36 387.1,964.36 387.1,964.36 387.99,964.36 387.99,959.37 389.48,959.37 389.48,957.01 390.96,957.01 390.96,954.52 395.42,954.52 395.42,954.52 396.9,954.52 396.9,952.58 401.8,952.58 401.8,951.61 402.69,951.61 402.69,946.62 404.77,946.62 404.77,943.71 409.67,943.71 409.67,943.71 410.56,943.71 410.56,941.77 413.98,941.77 413.98,941.77 416.5,941.77 416.5,935.95 418.43,935.95 418.43,933.87 424.38,933.87 424.38,932.9 426.31,932.9 426.31,929.99 427.2,929.99 427.2,928.05 428.83,928.05 428.83,924.44 430.76,924.44 430.76,919.04 434.77,919.04 434.77,916.13 438.04,916.13 438.04,913.63 440.71,913.63 440.71,911.97 443.38,911.97 443.38,909.2 445.16,909.2 445.16,906.43 446.95,906.43 446.95,903.79 448.13,903.79 448.13,900.19 449.62,900.19 449.62,896.59 450.66,896.59 450.66,892.57 451.55,892.57 451.55,889.38 456.01,889.38 456.01,885.77 459.57,885.77 459.57,883.14 463.13,883.14 463.13,878.57 467.59,878.57 467.59,875.93 469.37,875.93 469.37,868.73 472.93,868.73 472.93,865.95 474.86,865.95 474.86,863.46 477.54,863.46 477.54,860.69 482.88,860.69 482.88,858.89 490.16,858.89 490.16,858.05 494.62,858.05 494.62,857.08 495.51,857.08 495.51,853.48 506.35,853.48 506.35,852.65 508.13,852.65 508.13,849.6 520.9,849.6 520.9,849.6" fill="none" stroke="#ee3333" stroke-width="1.2" stroke-linejoin="round" />
<line x1="443.9" y1="964.4" x2="455.5" y2="964.4" stroke="#ee3333" stroke-width="1.3" />
<text x="460.6" y="966.56" font-size="6" text-anchor="start" fill="#000"  stroke="#000" stroke-width="0.1">risk score (AUC=0.603)</text>
<line x1="443.9" y1="971.7" x2="455.5" y2="971.7" stroke="#88e030" stroke-width="1.3" />
<text x="460.6" y="973.86" font-size="6" text-anchor="start" fill="#000"  stroke="#000" stroke-width="0.1">Gender (AUC=0.488)</text>
<line x1="443.9" y1="979" x2="455.5" y2="979" stroke="#22e8e8" stroke-width="1.3" />
<text x="460.6" y="981.16" font-size="6" text-anchor="start" fill="#000"  stroke="#000" stroke-width="0.1">Age (AUC=0.479)</text>
<line x1="443.9" y1="986.3" x2="455.5" y2="986.3" stroke="#9030f0" stroke-width="1.3" />
<text x="460.6" y="988.46" font-size="6" text-anchor="start" fill="#000"  stroke="#000" stroke-width="0.1">Stage (AUC=0.722)</text>
<rect x="369.52" y="1060.12" width="166.86" height="139.97" fill="none" stroke="#555" stroke-width="0.9" />
<line x1="375.7" y1="1200.08" x2="375.7" y2="1204.08" stroke="#555" stroke-width="0.8" />
<text x="375.7" y="1215.88" font-size="7.4" text-anchor="middle" fill="#111"  stroke="#111" stroke-width="0.1">0.0</text>
<line x1="365.52" y1="1194.9" x2="369.52" y2="1194.9" stroke="#555" stroke-width="0.8" />
<text transform="translate(359.22,1194.9) rotate(-90) scale(1)" font-size="7.4" text-anchor="middle" fill="#111" stroke="#111" stroke-width="0.1">0.0</text>
<line x1="406.6" y1="1200.08" x2="406.6" y2="1204.08" stroke="#555" stroke-width="0.8" />
<text x="406.6" y="1215.88" font-size="7.4" text-anchor="middle" fill="#111"  stroke="#111" stroke-width="0.1">0.2</text>
<line x1="365.52" y1="1168.98" x2="369.52" y2="1168.98" stroke="#555" stroke-width="0.8" />
<text transform="translate(359.22,1168.98) rotate(-90) scale(1)" font-size="7.4" text-anchor="middle" fill="#111" stroke="#111" stroke-width="0.1">0.2</text>
<line x1="437.5" y1="1200.08" x2="437.5" y2="1204.08" stroke="#555" stroke-width="0.8" />
<text x="437.5" y="1215.88" font-size="7.4" text-anchor="middle" fill="#111"  stroke="#111" stroke-width="0.1">0.4</text>
<line x1="365.52" y1="1143.06" x2="369.52" y2="1143.06" stroke="#555" stroke-width="0.8" />
<text transform="translate(359.22,1143.06) rotate(-90) scale(1)" font-size="7.4" text-anchor="middle" fill="#111" stroke="#111" stroke-width="0.1">0.4</text>
<line x1="468.4" y1="1200.08" x2="468.4" y2="1204.08" stroke="#555" stroke-width="0.8" />
<text x="468.4" y="1215.88" font-size="7.4" text-anchor="middle" fill="#111"  stroke="#111" stroke-width="0.1">0.6</text>
<line x1="365.52" y1="1117.14" x2="369.52" y2="1117.14" stroke="#555" stroke-width="0.8" />
<text transform="translate(359.22,1117.14) rotate(-90) scale(1)" font-size="7.4" text-anchor="middle" fill="#111" stroke="#111" stroke-width="0.1">0.6</text>
<line x1="499.3" y1="1200.08" x2="499.3" y2="1204.08" stroke="#555" stroke-width="0.8" />
<text x="499.3" y="1215.88" font-size="7.4" text-anchor="middle" fill="#111"  stroke="#111" stroke-width="0.1">0.8</text>
<line x1="365.52" y1="1091.22" x2="369.52" y2="1091.22" stroke="#555" stroke-width="0.8" />
<text transform="translate(359.22,1091.22) rotate(-90) scale(1)" font-size="7.4" text-anchor="middle" fill="#111" stroke="#111" stroke-width="0.1">0.8</text>
<line x1="530.2" y1="1200.08" x2="530.2" y2="1204.08" stroke="#555" stroke-width="0.8" />
<text x="530.2" y="1215.88" font-size="7.4" text-anchor="middle" fill="#111"  stroke="#111" stroke-width="0.1">1.0</text>
<line x1="365.52" y1="1065.3" x2="369.52" y2="1065.3" stroke="#555" stroke-width="0.8" />
<text transform="translate(359.22,1065.3) rotate(-90) scale(1)" font-size="7.4" text-anchor="middle" fill="#111" stroke="#111" stroke-width="0.1">1.0</text>
<text x="452.95" y="1233.08" font-size="7" text-anchor="middle" fill="#111"  stroke="#111" stroke-width="0.1">1−Specificity</text>
<text transform="translate(341.2,1130.1) rotate(-90) scale(1)" font-size="7" text-anchor="middle" fill="#111" stroke="#111" stroke-width="0.1">Sensitivity</text>
<line x1="369.52" y1="1200.08" x2="536.38" y2="1060.12" stroke="#222" stroke-width="1" stroke-dasharray="2.2,2"/>
<polyline points="375.88,1195 375.88,1195 375.88,1182.06 376.62,1182.06 376.62,1177.65 377.35,1177.65 377.35,1168.82 379.56,1168.82 379.56,1168.82 380.29,1168.82 380.29,1161.47 382.5,1161.47 382.5,1161.47 382.5,1161.47 382.5,1154.12 386.18,1154.12 386.18,1154.12 386.91,1154.12 386.91,1148.24 389.12,1148.24 389.12,1148.24 389.85,1148.24 389.85,1140.88 392.06,1140.88 392.06,1140.88 393.53,1140.88 393.53,1134.26 400.88,1134.26 400.88,1134.26 401.62,1134.26 401.62,1127.65 403.82,1127.65 403.82,1124.71 404.12,1124.71 404.12,1106.76 416.32,1106.76 416.32,1106.76 417.06,1106.76 417.06,1099.71 422.94,1099.71 422.94,1099.71 423.68,1099.71 423.68,1092.65 433.97,1092.65 433.97,1092.65 434.71,1092.65 434.71,1091.62 442.06,1091.62 442.06,1091.62 442.35,1091.62 442.35,1086.47 452.21,1086.47 452.21,1079.26 473.53,1079.26 473.53,1079.26 473.53,1079.26 473.53,1072.35 490.44,1072.35 490.44,1072.35 490.44,1072.35 490.44,1065.59 526.47,1065.59 526.47,1065.59 530.15,1065.59 530.15,1064.56" fill="none" stroke="#00dd00" stroke-width="1.2" stroke-linejoin="round" />
<polyline points="375.88,1195 375.88,1195 375.88,1171.76 381.03,1171.76 381.03,1171.76 381.03,1171.76 381.03,1164.41 382.5,1164.41 382.5,1161.47 384.71,1161.47 384.71,1157.06 386.18,1157.06 386.18,1156.32 389.12,1156.32 389.12,1156.32 390.29,1156.32 390.29,1143.09 392.79,1143.09 392.79,1141.62 394.26,1141.62 394.26,1133.53 395.74,1133.53 395.74,1129.12 397.21,1129.12 397.21,1127.65 398.68,1127.65 398.68,1123.97 401.62,1123.97 401.62,1123.97 402.35,1123.97 402.35,1120.29 404.56,1120.29 404.56,1118.09 406.47,1118.09 406.47,1114.41 408.97,1114.41 408.97,1114.41 409.71,1114.41 409.71,1112.21 411.91,1112.21 411.91,1111.47 412.65,1111.47 412.65,1109.26 420,1109.26 420,1108.53 421.47,1108.53 421.47,1106.32 422.94,1106.32 422.94,1104.12 425.15,1104.12 425.15,1101.91 427.35,1101.91 427.35,1097.5 428.82,1097.5 428.82,1096.03 431.76,1096.03 431.76,1093.82 434.71,1093.82 434.71,1092.35 437.65,1092.35 437.65,1091.62 440.59,1091.62 440.59,1090.88 442.06,1090.88 442.06,1088.68 445,1088.68 445,1087.21 450.88,1087.21 450.88,1087.21 453.82,1087.21 453.82,1086.47 455.88,1086.47 455.88,1086.62 458.82,1086.62 458.82,1084.41 463.24,1084.41 463.24,1082.21 467.65,1082.21 467.65,1081.47 473.53,1081.47 473.53,1080 479.41,1080 479.41,1077.79 485.29,1077.79 485.29,1075.59 489.71,1075.59 489.71,1074.12 494.12,1074.12 494.12,1072.65 498.53,1072.65 498.53,1070.44 501.47,1070.44 501.47,1068.97 508.82,1068.97 508.82,1068.97 519.12,1068.97 519.12,1068.53 525,1068.53 525,1066.76 530.15,1066.76 530.15,1064.56" fill="none" stroke="#0000dd" stroke-width="1.2" stroke-linejoin="round" />
<polyline points="375.88,1195 375.88,1195 375.88,1177.65 381.03,1177.65 381.03,1177.65 381.03,1177.65 381.03,1168.09 384.71,1168.09 384.71,1165.88 386.91,1165.88 386.91,1164.41 387.65,1164.41 387.65,1152.65 390.59,1152.65 390.59,1152.65 391.32,1152.65 391.32,1142.35 393.53,1142.35 393.53,1140.15 395,1140.15 395,1136.47 400.88,1136.47 400.88,1136.47 401.62,1136.47 401.62,1132.06 403.82,1132.06 403.82,1129.12 404.56,1129.12 404.56,1126.18 406.03,1126.18 406.03,1121.76 407.5,1121.76 407.5,1118.82 411.18,1118.82 411.18,1118.09 412.65,1118.09 412.65,1116.62 415.59,1116.62 415.59,1116.62 417.06,1116.62 417.06,1114.41 420,1114.41 420,1112.94 422.21,1112.94 422.21,1111.47 422.94,1111.47 422.94,1109.26 425.88,1109.26 425.88,1107.06 428.82,1107.06 428.82,1106.32 431.76,1106.32 431.76,1104.85 434.71,1104.85 434.71,1104.12 439.85,1104.12 439.85,1104.12 442.06,1104.12 442.06,1101.18 443.53,1101.18 443.53,1098.97 446.47,1098.97 446.47,1098.24 449.41,1098.24 449.41,1096.03 452.35,1096.03 452.35,1094.56 455.29,1094.56 455.29,1092.35 458.82,1092.35 458.82,1091.03 464.71,1091.03 464.71,1089.56 470.59,1089.56 470.59,1088.09 472.06,1088.09 472.06,1085.15 476.47,1085.15 476.47,1082.94 480.88,1082.94 480.88,1080 486.76,1080 486.76,1077.06 489.71,1077.06 489.71,1074.85 494.12,1074.85 494.12,1073.38 497.06,1073.38 497.06,1071.18 497.06,1071.18 497.06,1068.53 502.94,1068.53 502.94,1068.53 519.12,1068.53 519.12,1068.24 523.53,1068.24 523.53,1066.76 530.15,1066.76 530.15,1064.56" fill="none" stroke="#ee0000" stroke-width="1.2" stroke-linejoin="round" />
<line x1="440.4" y1="1173.5" x2="454.3" y2="1173.5" stroke="#00dd00" stroke-width="1.3" />
<text x="460.4" y="1176.09" font-size="7.2" text-anchor="start" fill="#000"  stroke="#000" stroke-width="0.1">AUC at 1 years: 0.789</text>
<line x1="440.4" y1="1182.4" x2="454.3" y2="1182.4" stroke="#0000dd" stroke-width="1.3" />
<text x="460.4" y="1184.99" font-size="7.2" text-anchor="start" fill="#000"  stroke="#000" stroke-width="0.1">AUC at 3 years: 0.764</text>
<line x1="440.4" y1="1191.4" x2="454.3" y2="1191.4" stroke="#ee0000" stroke-width="1.3" />
<text x="460.4" y="1193.99" font-size="7.2" text-anchor="start" fill="#000"  stroke="#000" stroke-width="0.1">AUC at 5 years: 0.726</text>
</svg>
</body></html>
